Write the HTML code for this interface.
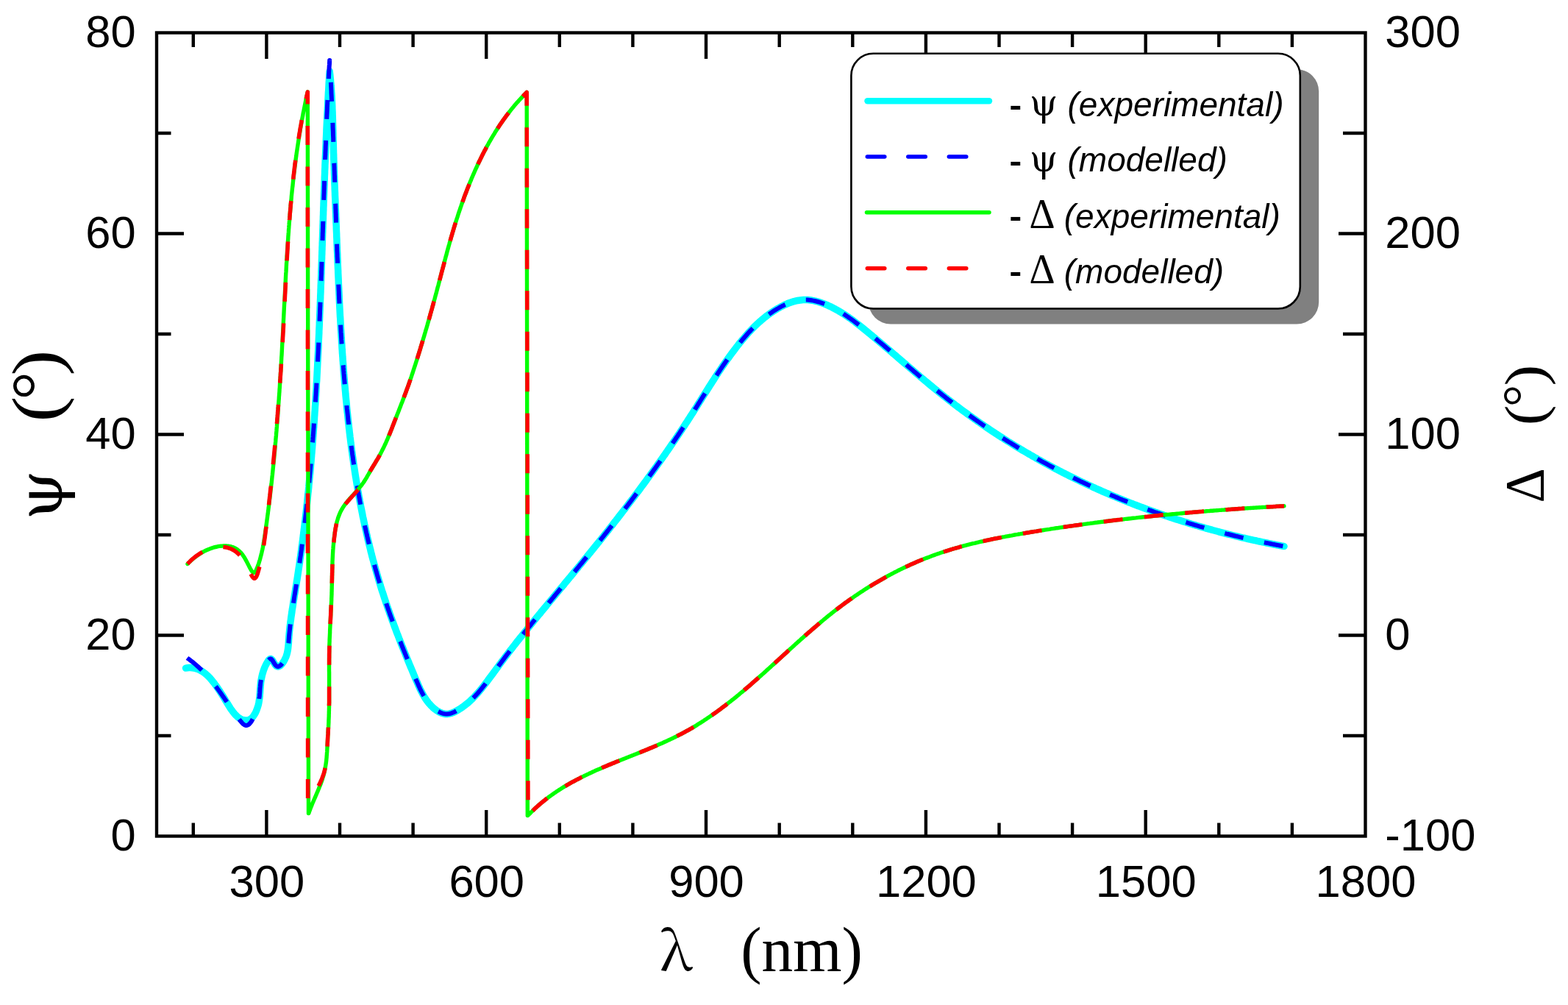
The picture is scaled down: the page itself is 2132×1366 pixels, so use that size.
<!DOCTYPE html><html><head><meta charset="utf-8"><title>Ellipsometry spectra</title>
<style>html,body{margin:0;padding:0;background:#fff;width:2132px;height:1366px;overflow:hidden}svg{display:block}</style></head><body>
<svg width="2132" height="1366" viewBox="0 0 2132 1366">
<rect width="2132" height="1366" fill="#fff"/>
<g fill="none" stroke-linejoin="round">
<path d="M252.6,908.1 254.8,907.8 257,907.6 259.1,907.6 261.1,907.8 263.1,908 265.1,908.4 266.9,908.9 268.8,909.5 270.5,910.3 272.3,911.1 273.9,912 275.6,913 277.2,914.1 278.7,915.3 280.2,916.5 281.7,917.8 283.1,919.2 284.5,920.6 285.9,922.1 287.2,923.6 288.5,925.2 289.7,926.7 291,928.3 292.2,930 293.4,931.6 294.6,933.2 295.7,934.8 296.8,936.5 298,938.2 299.1,939.8 300.1,941.5 301.2,943.2 302.3,944.9 303.4,946.6 304.5,948.3 305.5,950.1 306.6,951.9 307.7,953.7 308.8,955.5 309.9,957.3 311,959.1 312.2,960.9 313.3,962.7 314.5,964.4 315.7,966.1 317,967.8 318.2,969.4 319.5,970.9 320.8,972.3 322.2,973.6 323.6,974.8 325,975.8 326.5,976.8 328,977.6 329.6,978.2 331.1,978.7 332.7,979 334.3,979.1 335.8,979.1 337.3,978.8 338.8,978.3 340.3,977.6 341.6,976.6 342.9,975.4 344.1,974 345.2,972.4 346.3,970.7 347.3,968.9 348.2,967 349,965 349.7,963 350.4,961 351,959 351.5,957.1 351.9,955.1 352.2,953.2 352.5,951.3 352.8,949.4 353,947.6 353.2,945.7 353.3,943.9 353.5,942 353.6,940.1 353.7,938.3 353.8,936.4 354,934.5 354.1,932.6 354.3,930.7 354.5,928.7 354.7,926.7 355,924.7 355.4,922.7 355.8,920.6 356.3,918.4 356.8,916.2 357.5,914 358.2,911.7 359,909.4 359.9,907.1 360.9,904.9 362,902.8 363.1,900.7 364.3,898.8 365.5,897.1 366.8,895.9 368.2,895.5 369.6,896.4 371.1,898.5 372.6,901.1 374.1,903.5 375.7,905.2 377.3,905.9 378.8,905.9 380.4,905.2 381.9,904.1 383.3,902.6 384.6,900.8 385.8,899 386.8,897.2 387.7,895.3 388.6,893.5 389.3,891.6 389.9,889.8 390.4,887.9 390.8,886 391.2,884.1 391.5,882.3 391.7,880.4 391.9,878.5 392.1,876.6 392.3,874.7 392.4,872.8 392.5,870.9 392.6,868.9 392.8,867 392.9,865.1 393.1,863.2 393.2,861.2 393.4,859.3 393.6,857.4 393.8,855.4 394,853.5 394.2,851.5 394.5,849.6 394.7,847.6 394.9,845.6 395.2,843.7 395.5,841.7 395.7,839.7 396,837.8 396.3,835.8 396.6,833.8 396.9,831.8 397.1,829.9 397.4,827.9 397.8,825.9 398.1,823.9 398.4,821.9 398.7,819.9 399,817.9 399.3,815.9 399.7,813.9 400,811.9 400.3,809.9 400.6,807.9 401,806 401.3,804 401.6,802 401.9,800 402.3,798 402.6,796 402.9,794 403.2,792 403.5,790 403.9,788 404.2,786 404.5,784 404.8,782 405.1,780 405.4,778 405.7,776 406,774 406.3,772 406.6,770 406.9,768 407.2,766 407.5,764 407.7,762 408,760 408.3,758 408.6,756 408.9,754 409.2,752 409.4,750 409.7,748 410,746 410.2,744 410.5,742 410.8,740 411,738 411.3,736 411.6,734 411.8,732 412.1,730 412.3,728 412.6,726 412.8,724 413.1,722 413.3,720 413.6,718 413.8,716 414.1,714 414.3,712 414.5,710 414.8,708 415,706 415.2,704 415.5,702 415.7,700.1 415.9,698.1 416.2,696.1 416.4,694.1 416.6,692.1 416.8,690.1 417,688.1 417.3,686.1 417.5,684.1 417.7,682.1 417.9,680.1 418.1,678.1 418.3,676.1 418.5,674.1 418.7,672.1 418.9,670.1 419.2,668.1 419.4,666.1 419.6,664.1 419.8,662.1 419.9,660.1 420.1,658.1 420.3,656.1 420.5,654.1 420.7,652.1 420.9,650.1 421.1,648.1 421.3,646.1 421.5,644.1 421.7,642.1 421.8,640.2 422,638.2 422.2,636.2 422.4,634.2 422.5,632.2 422.7,630.2 422.9,628.2 423.1,626.2 423.2,624.2 423.4,622.2 423.6,620.2 423.7,618.2 423.9,616.2 424.1,614.2 424.2,612.2 424.4,610.2 424.6,608.2 424.7,606.2 424.9,604.2 425,602.2 425.2,600.2 425.3,598.2 425.5,596.2 425.6,594.2 425.8,592.2 425.9,590.3 426.1,588.3 426.2,586.3 426.4,584.3 426.5,582.3 426.7,580.3 426.8,578.3 426.9,576.3 427.1,574.3 427.2,572.3 427.4,570.3 427.5,568.3 427.6,566.3 427.8,564.3 427.9,562.3 428,560.3 428.2,558.3 428.3,556.3 428.4,554.3 428.5,552.3 428.7,550.3 428.8,548.3 428.9,546.4 429,544.4 429.2,542.4 429.3,540.4 429.4,538.4 429.5,536.4 429.6,534.4 429.8,532.4 429.9,530.4 430,528.4 430.1,526.4 430.2,524.4 430.3,522.4 430.4,520.4 430.6,518.4 430.7,516.4 430.8,514.4 430.9,512.4 431,510.4 431.1,508.4 431.2,506.4 431.3,504.5 431.4,502.5 431.5,500.5 431.6,498.5 431.7,496.5 431.8,494.5 431.9,492.5 432,490.5 432.1,488.5 432.2,486.5 432.3,484.5 432.4,482.5 432.5,480.5 432.6,478.5 432.7,476.5 432.8,474.5 432.9,472.5 433,470.5 433.1,468.5 433.1,466.5 433.2,464.5 433.3,462.5 433.4,460.6 433.5,458.6 433.6,456.6 433.7,454.6 433.8,452.6 433.8,450.6 433.9,448.6 434,446.6 434.1,444.6 434.2,442.6 434.3,440.6 434.3,438.6 434.4,436.6 434.5,434.6 434.6,432.6 434.7,430.6 434.7,428.6 434.8,426.6 434.9,424.6 435,422.6 435.1,420.6 435.1,418.7 435.2,416.7 435.3,414.7 435.4,412.7 435.4,410.7 435.5,408.7 435.6,406.7 435.7,404.7 435.7,402.7 435.8,400.7 435.9,398.7 436,396.7 436,394.7 436.1,392.7 436.2,390.7 436.2,388.7 436.3,386.7 436.4,384.7 436.5,382.7 436.5,380.7 436.6,378.7 436.7,376.7 436.7,374.7 436.8,372.8 436.9,370.8 436.9,368.8 437,366.8 437.1,364.8 437.2,362.8 437.2,360.8 437.3,358.8 437.4,356.8 437.4,354.8 437.5,352.8 437.6,350.8 437.6,348.8 437.7,346.8 437.8,344.8 437.8,342.8 437.9,340.8 438,338.8 438,336.8 438.1,334.8 438.2,332.8 438.2,330.8 438.3,328.8 438.4,326.8 438.4,324.8 438.5,322.9 438.6,320.9 438.6,318.9 438.7,316.9 438.8,314.9 438.8,312.9 438.9,310.9 439,308.9 439,306.9 439.1,304.9 439.2,302.9 439.2,300.9 439.3,298.9 439.4,296.9 439.4,294.9 439.5,292.9 439.6,290.9 439.6,288.9 439.7,286.9 439.8,284.9 439.8,282.9 439.9,280.9 440,278.9 440,276.9 440.1,274.9 440.2,272.9 440.3,270.9 440.3,268.9 440.4,266.9 440.5,264.9 440.5,262.9 440.6,260.9 440.7,258.9 440.7,257 440.8,255 440.9,253 441,251 441,249 441.1,247 441.2,245 441.3,243 441.3,241 441.4,239 441.5,237 441.6,235 441.6,233 441.7,231 441.8,229 441.9,227 441.9,225 442,223 442.1,221 442.2,219 442.2,217 442.3,215 442.4,213 442.5,211 442.6,209 442.7,207 442.7,205 442.8,203 442.9,201 443,199 443.1,197 443.2,195 443.2,193 443.3,191 443.4,189 443.5,187 443.6,185 443.7,183 443.8,181 443.9,179 443.9,177 444,175 444.1,173 444.2,171 444.3,169 444.4,167 444.5,165 444.6,163 444.7,161 444.8,159 444.9,157 445,155 445.1,153 445.2,151 445.3,149 445.4,147 445.5,145 445.6,143 445.7,141 445.8,139 445.9,137 446,135 446.1,133 446.2,131 446.3,129 446.4,127 446.5,125 446.7,123 446.8,121 446.9,119 447,117 447.1,115 447.2,113 447.3,111 447.5,109 447.6,107 447.7,105 447.8,103 447.9,101 448.1,99 448.2,97 L448.2,97 448.4,99 448.7,101 448.9,103 449.1,105 449.3,107 449.5,109 449.6,111 449.8,113 450,115 450.1,117 450.3,119 450.4,121 450.6,123 450.7,125 450.8,127 451,128.9 451.1,130.9 451.2,132.9 451.3,134.9 451.4,136.9 451.5,138.9 451.6,140.9 451.7,142.9 451.8,144.9 451.8,146.9 451.9,148.9 452,150.9 452.1,152.9 452.1,154.9 452.2,156.9 452.3,158.9 452.3,160.9 452.4,162.9 452.4,164.9 452.5,166.9 452.5,168.9 452.6,170.9 452.7,172.9 452.7,174.9 452.8,176.9 452.8,178.9 452.9,180.9 452.9,182.9 452.9,184.9 453,186.9 453,188.9 453.1,190.9 453.2,192.8 453.2,194.8 453.3,196.8 453.3,198.8 453.4,200.8 453.4,202.8 453.5,204.8 453.5,206.8 453.6,208.8 453.7,210.8 453.7,212.8 453.8,214.8 453.8,216.8 453.9,218.8 454,220.8 454,222.8 454.1,224.8 454.2,226.8 454.2,228.8 454.3,230.8 454.4,232.8 454.4,234.8 454.5,236.8 454.6,238.8 454.7,240.8 454.7,242.8 454.8,244.8 454.9,246.8 454.9,248.8 455,250.8 455.1,252.8 455.2,254.8 455.2,256.7 455.3,258.7 455.4,260.7 455.5,262.7 455.5,264.7 455.6,266.7 455.7,268.7 455.8,270.7 455.9,272.7 455.9,274.7 456,276.7 456.1,278.7 456.2,280.7 456.2,282.7 456.3,284.7 456.4,286.7 456.5,288.7 456.6,290.7 456.6,292.7 456.7,294.7 456.8,296.7 456.9,298.7 457,300.7 457,302.7 457.1,304.7 457.2,306.7 457.3,308.7 457.3,310.7 457.4,312.7 457.5,314.7 457.6,316.7 457.7,318.7 457.7,320.6 457.8,322.6 457.9,324.6 458,326.6 458,328.6 458.1,330.6 458.2,332.6 458.3,334.6 458.4,336.6 458.4,338.6 458.5,340.6 458.6,342.6 458.7,344.6 458.8,346.6 458.8,348.6 458.9,350.6 459,352.6 459.1,354.6 459.2,356.6 459.2,358.6 459.3,360.6 459.4,362.6 459.5,364.6 459.6,366.6 459.7,368.6 459.7,370.6 459.8,372.6 459.9,374.6 460,376.6 460.1,378.6 460.2,380.6 460.3,382.6 460.3,384.5 460.4,386.5 460.5,388.5 460.6,390.5 460.7,392.5 460.8,394.5 460.9,396.5 461,398.5 461.1,400.5 461.2,402.5 461.2,404.5 461.3,406.5 461.4,408.5 461.5,410.5 461.6,412.5 461.7,414.5 461.8,416.5 461.9,418.5 462,420.5 462.1,422.5 462.2,424.5 462.3,426.5 462.4,428.5 462.5,430.5 462.7,432.5 462.8,434.5 462.9,436.5 463,438.5 463.1,440.5 463.2,442.5 463.3,444.5 463.4,446.5 463.5,448.4 463.7,450.4 463.8,452.4 463.9,454.4 464,456.4 464.1,458.4 464.3,460.4 464.4,462.4 464.5,464.4 464.6,466.4 464.8,468.4 464.9,470.4 465,472.4 465.1,474.4 465.3,476.4 465.4,478.4 465.5,480.4 465.7,482.4 465.8,484.4 466,486.4 466.1,488.4 466.2,490.4 466.4,492.4 466.5,494.4 466.7,496.4 466.8,498.4 467,500.4 467.1,502.4 467.3,504.4 467.4,506.4 467.6,508.4 467.7,510.3 467.9,512.3 468.1,514.3 468.2,516.3 468.4,518.3 468.5,520.3 468.7,522.3 468.9,524.3 469.1,526.3 469.2,528.3 469.4,530.3 469.6,532.3 469.8,534.3 469.9,536.3 470.1,538.3 470.3,540.3 470.5,542.3 470.7,544.3 470.9,546.3 471.1,548.3 471.3,550.3 471.4,552.3 471.6,554.3 471.8,556.3 472,558.3 472.2,560.3 472.5,562.3 472.7,564.3 472.9,566.2 473.1,568.2 473.3,570.2 473.5,572.2 473.7,574.2 474,576.2 474.2,578.2 474.4,580.2 474.6,582.2 474.9,584.2 475.1,586.2 475.3,588.2 475.6,590.2 475.8,592.2 476,594.1 476.3,596.1 476.5,598.1 476.8,600.1 477,602.1 477.3,604.1 477.5,606.1 477.8,608.1 478.1,610.1 478.3,612 478.6,614 478.9,616 479.1,618 479.4,620 479.7,622 480,624 480.3,625.9 480.5,627.9 480.8,629.9 481.1,631.9 481.4,633.9 481.7,635.9 482,637.8 482.3,639.8 482.6,641.8 482.9,643.8 483.2,645.8 483.5,647.7 483.9,649.7 484.2,651.7 484.5,653.7 484.8,655.6 485.1,657.6 485.5,659.6 485.8,661.6 486.2,663.5 486.5,665.5 486.8,667.5 487.2,669.4 487.5,671.4 487.9,673.4 488.2,675.4 488.6,677.3 489,679.3 489.3,681.3 489.7,683.2 490.1,685.2 490.4,687.1 490.8,689.1 491.2,691.1 491.6,693 492,695 492.4,697 492.8,698.9 493.1,700.9 493.5,702.8 494,704.8 494.4,706.7 494.8,708.7 495.2,710.6 495.6,712.6 496,714.5 496.5,716.5 496.9,718.4 497.3,720.4 497.8,722.3 498.2,724.3 498.6,726.2 499.1,728.2 499.5,730.1 500,732.1 500.4,734 500.9,735.9 501.4,737.9 501.8,739.8 502.3,741.7 502.8,743.7 503.3,745.6 503.8,747.5 504.2,749.5 504.7,751.4 505.2,753.3 505.7,755.3 506.2,757.2 506.7,759.1 507.2,761 507.8,763 508.3,764.9 508.8,766.8 509.3,768.7 509.9,770.6 510.4,772.6 510.9,774.5 511.5,776.4 512,778.3 512.6,780.2 513.1,782.1 513.7,784 514.3,785.9 514.8,787.9 515.4,789.8 516,791.7 516.6,793.6 517.1,795.5 517.7,797.4 518.3,799.3 518.9,801.2 519.5,803.1 520.1,804.9 520.8,806.8 521.4,808.7 522,810.6 522.6,812.5 523.2,814.4 523.9,816.3 524.5,818.2 525.1,820.1 525.8,821.9 526.4,823.8 527.1,825.7 527.7,827.6 528.4,829.5 529.1,831.3 529.7,833.2 530.4,835.1 531.1,837 531.7,838.8 532.4,840.7 533.1,842.6 533.8,844.5 534.5,846.3 535.2,848.2 535.9,850.1 536.6,852 537.3,853.8 538,855.7 538.7,857.6 539.4,859.5 540.1,861.3 540.9,863.2 541.6,865.1 542.3,866.9 543,868.8 543.8,870.7 544.5,872.5 545.2,874.4 546,876.3 546.7,878.2 547.5,880 548.2,881.9 549,883.8 549.7,885.6 550.5,887.5 551.3,889.4 552,891.3 552.8,893.1 553.5,895 554.3,896.9 555.1,898.7 555.9,900.6 556.6,902.5 557.4,904.4 558.2,906.2 559,908.1 559.8,910 560.6,911.9 561.4,913.8 562.1,915.6 562.9,917.5 563.7,919.4 564.5,921.3 565.3,923.2 566.1,925.1 567,926.9 567.8,928.8 568.6,930.7 569.4,932.6 570.3,934.4 571.1,936.3 572,938.1 572.9,939.9 573.9,941.7 574.8,943.5 575.8,945.2 576.8,947 577.9,948.7 579,950.3 580.1,952 581.3,953.5 582.5,955.1 583.7,956.6 585.1,958.1 586.4,959.5 587.9,960.9 589.3,962.3 590.9,963.6 592.5,964.8 594.1,966 595.8,967 597.6,968 599.4,968.8 601.2,969.5 603.1,970 605,970.4 606.9,970.5 608.8,970.4 610.7,970.2 612.6,969.7 614.5,969.1 616.4,968.3 618.3,967.5 620.2,966.5 622,965.5 623.8,964.4 625.6,963.3 627.3,962.2 629,961 630.6,959.8 632.2,958.6 633.8,957.3 635.4,956.1 636.9,954.8 638.4,953.5 639.9,952.1 641.3,950.7 642.7,949.4 644.1,948 645.5,946.5 646.8,945.1 648.2,943.6 649.5,942.1 650.8,940.6 652.1,939.1 653.3,937.6 654.6,936.1 655.8,934.5 657.1,932.9 658.3,931.4 659.5,929.8 660.8,928.2 662,926.6 663.2,925 664.4,923.3 665.6,921.7 666.8,920.1 668.1,918.4 669.3,916.8 670.5,915.2 671.7,913.5 672.9,911.9 674.1,910.2 675.4,908.6 676.6,906.9 677.8,905.3 679,903.6 680.2,902 681.4,900.4 682.7,898.7 683.9,897.1 685.1,895.5 686.3,893.9 687.5,892.3 688.8,890.7 690,889.1 691.2,887.5 692.4,885.9 693.6,884.3 694.9,882.7 696.1,881.2 697.3,879.6 698.5,878 699.8,876.5 701,874.9 702.2,873.3 703.4,871.8 704.7,870.2 705.9,868.7 707.1,867.1 708.4,865.6 709.6,864.1 710.9,862.5 712.1,861 713.3,859.4 714.6,857.9 715.8,856.4 717.1,854.8 718.3,853.3 719.6,851.7 720.8,850.2 722.1,848.7 723.3,847.1 724.6,845.6 725.8,844.1 727.1,842.5 728.3,841 729.6,839.4 730.9,837.9 732.1,836.4 733.4,834.8 734.7,833.3 735.9,831.7 737.2,830.2 738.5,828.7 739.7,827.1 741,825.6 742.3,824.1 743.5,822.5 744.8,821 746.1,819.4 747.4,817.9 748.6,816.4 749.9,814.8 751.2,813.3 752.5,811.7 753.8,810.2 755,808.7 756.3,807.1 757.6,805.6 758.9,804 760.1,802.5 761.4,800.9 762.7,799.4 764,797.9 765.3,796.3 766.6,794.8 767.8,793.2 769.1,791.7 770.4,790.1 771.7,788.6 773,787 774.2,785.5 775.5,784 776.8,782.4 778.1,780.9 779.4,779.3 780.6,777.8 781.9,776.2 783.2,774.7 784.5,773.1 785.8,771.6 787,770 788.3,768.5 789.6,766.9 790.9,765.4 792.1,763.8 793.4,762.3 794.7,760.7 796,759.2 797.2,757.6 798.5,756.1 799.8,754.5 801,752.9 802.3,751.4 803.6,749.8 804.8,748.3 806.1,746.7 807.4,745.2 808.6,743.6 809.9,742 811.1,740.5 812.4,738.9 813.7,737.4 814.9,735.8 816.2,734.2 817.4,732.7 818.7,731.1 819.9,729.6 821.2,728 822.4,726.4 823.7,724.9 824.9,723.3 826.2,721.7 827.4,720.2 828.6,718.6 829.9,717 831.1,715.4 832.4,713.9 833.6,712.3 834.8,710.7 836.1,709.1 837.3,707.6 838.5,706 839.8,704.4 841,702.8 842.2,701.3 843.4,699.7 844.7,698.1 845.9,696.5 847.1,694.9 848.3,693.4 849.6,691.8 850.8,690.2 852,688.6 853.2,687 854.4,685.4 855.6,683.8 856.8,682.3 858,680.7 859.3,679.1 860.5,677.5 861.7,675.9 862.9,674.3 864.1,672.7 865.3,671.1 866.5,669.5 867.7,667.9 868.9,666.3 870.1,664.7 871.2,663.1 872.4,661.5 873.6,659.9 874.8,658.3 876,656.7 877.2,655.1 878.4,653.5 879.5,651.9 880.7,650.2 881.9,648.6 883.1,647 884.3,645.4 885.4,643.8 886.6,642.2 887.8,640.6 888.9,638.9 890.1,637.3 891.3,635.7 892.4,634.1 893.6,632.4 894.7,630.8 895.9,629.2 897.1,627.6 898.2,625.9 899.4,624.3 900.5,622.7 901.7,621 902.8,619.4 904,617.8 905.1,616.1 906.2,614.5 907.4,612.9 908.5,611.2 909.7,609.6 910.8,607.9 911.9,606.3 913.1,604.6 914.2,603 915.3,601.3 916.4,599.7 917.6,598 918.7,596.4 919.8,594.7 920.9,593.1 922,591.4 923.2,589.7 924.3,588.1 925.4,586.4 926.5,584.8 927.6,583.1 928.7,581.4 929.8,579.8 930.9,578.1 932,576.4 933.1,574.7 934.2,573.1 935.3,571.4 936.4,569.7 937.5,568 938.5,566.3 939.6,564.7 940.7,563 941.8,561.3 942.9,559.6 943.9,557.9 945,556.2 946.1,554.5 947.2,552.8 948.2,551.1 949.3,549.4 950.4,547.7 951.4,546 952.5,544.3 953.6,542.6 954.6,540.9 955.7,539.2 956.8,537.5 957.8,535.8 958.9,534.2 960,532.5 961,530.8 962.1,529.1 963.2,527.4 964.3,525.7 965.3,524 966.4,522.3 967.5,520.6 968.6,518.9 969.7,517.2 970.8,515.6 971.8,513.9 972.9,512.2 974,510.5 975.1,508.8 976.2,507.2 977.3,505.5 978.4,503.8 979.6,502.2 980.7,500.5 981.8,498.9 982.9,497.2 984.1,495.6 985.2,493.9 986.3,492.3 987.5,490.7 988.6,489 989.8,487.4 991,485.8 992.1,484.2 993.3,482.6 994.5,480.9 995.7,479.3 996.9,477.8 998.1,476.2 999.3,474.6 1000.5,473 1001.7,471.4 1002.9,469.9 1004.2,468.3 1005.4,466.7 1006.7,465.2 1007.9,463.7 1009.2,462.1 1010.5,460.6 1011.8,459.1 1013.1,457.6 1014.4,456.1 1015.7,454.6 1017,453.1 1018.4,451.6 1019.7,450.2 1021.1,448.7 1022.5,447.3 1023.9,445.8 1025.3,444.4 1026.7,443 1028.1,441.7 1029.5,440.3 1031,439 1032.5,437.6 1034,436.3 1035.5,435 1037,433.8 1038.5,432.5 1040.1,431.3 1041.7,430 1043.2,428.8 1044.8,427.7 1046.5,426.5 1048.1,425.3 1049.8,424.2 1051.5,423.1 1053.2,422 1054.9,420.9 1056.6,419.9 1058.4,418.8 1060.2,417.8 1062,416.8 1063.8,415.9 1065.6,415 1067.5,414.1 1069.3,413.3 1071.2,412.5 1073,411.8 1074.9,411.1 1076.8,410.5 1078.7,409.9 1080.7,409.4 1082.6,408.9 1084.5,408.5 1086.5,408.2 1088.4,407.9 1090.4,407.7 1092.3,407.6 1094.3,407.5 1096.2,407.5 1098.2,407.6 1100.2,407.8 1102.1,408 1104.1,408.3 1106,408.7 1108,409.1 1109.9,409.5 1111.9,410 1113.8,410.6 1115.8,411.2 1117.7,411.9 1119.6,412.6 1121.5,413.3 1123.4,414.1 1125.3,414.9 1127.1,415.8 1129,416.6 1130.8,417.5 1132.7,418.5 1134.5,419.4 1136.2,420.4 1138,421.3 1139.8,422.3 1141.5,423.4 1143.2,424.4 1144.9,425.4 1146.6,426.5 1148.3,427.6 1150,428.7 1151.6,429.8 1153.3,430.9 1154.9,432.1 1156.5,433.2 1158.2,434.4 1159.8,435.6 1161.4,436.8 1163,438 1164.5,439.2 1166.1,440.4 1167.7,441.6 1169.2,442.8 1170.8,444.1 1172.4,445.3 1173.9,446.6 1175.5,447.8 1177,449.1 1178.5,450.3 1180.1,451.6 1181.6,452.9 1183.1,454.1 1184.7,455.4 1186.2,456.7 1187.7,457.9 1189.3,459.2 1190.8,460.5 1192.3,461.8 1193.9,463 1195.4,464.3 1196.9,465.6 1198.4,466.9 1200,468.2 1201.5,469.5 1203,470.8 1204.5,472.1 1206,473.3 1207.5,474.6 1209.1,475.9 1210.6,477.2 1212.1,478.5 1213.6,479.8 1215.1,481.1 1216.7,482.4 1218.2,483.7 1219.7,485 1221.2,486.3 1222.7,487.6 1224.2,488.9 1225.7,490.2 1227.3,491.5 1228.8,492.8 1230.3,494.1 1231.8,495.4 1233.3,496.7 1234.9,498 1236.4,499.3 1237.9,500.6 1239.4,501.9 1240.9,503.2 1242.5,504.5 1244,505.8 1245.5,507.1 1247,508.4 1248.6,509.7 1250.1,511 1251.6,512.3 1253.1,513.6 1254.7,514.9 1256.2,516.2 1257.7,517.5 1259.3,518.7 1260.8,520 1262.4,521.3 1263.9,522.6 1265.4,523.9 1267,525.1 1268.5,526.4 1270.1,527.7 1271.6,528.9 1273.2,530.2 1274.7,531.5 1276.3,532.7 1277.9,534 1279.4,535.2 1281,536.5 1282.5,537.7 1284.1,539 1285.7,540.2 1287.3,541.4 1288.8,542.7 1290.4,543.9 1292,545.1 1293.6,546.3 1295.2,547.6 1296.8,548.8 1298.3,550 1299.9,551.2 1301.5,552.4 1303.1,553.6 1304.7,554.8 1306.3,556 1307.9,557.2 1309.5,558.4 1311.2,559.6 1312.8,560.7 1314.4,561.9 1316,563.1 1317.6,564.3 1319.2,565.4 1320.9,566.6 1322.5,567.8 1324.1,568.9 1325.7,570.1 1327.4,571.2 1329,572.4 1330.7,573.5 1332.3,574.7 1333.9,575.8 1335.6,576.9 1337.2,578.1 1338.9,579.2 1340.5,580.3 1342.2,581.4 1343.8,582.6 1345.5,583.7 1347.1,584.8 1348.8,585.9 1350.5,587 1352.1,588.1 1353.8,589.2 1355.5,590.3 1357.2,591.4 1358.8,592.5 1360.5,593.6 1362.2,594.6 1363.9,595.7 1365.5,596.8 1367.2,597.9 1368.9,598.9 1370.6,600 1372.3,601 1374,602.1 1375.7,603.2 1377.4,604.2 1379.1,605.3 1380.8,606.3 1382.5,607.3 1384.2,608.4 1385.9,609.4 1387.6,610.4 1389.3,611.5 1391.1,612.5 1392.8,613.5 1394.5,614.5 1396.2,615.5 1397.9,616.5 1399.7,617.5 1401.4,618.5 1403.1,619.5 1404.9,620.5 1406.6,621.5 1408.3,622.5 1410.1,623.5 1411.8,624.5 1413.6,625.4 1415.3,626.4 1417,627.4 1418.8,628.3 1420.5,629.3 1422.3,630.3 1424.1,631.2 1425.8,632.2 1427.6,633.1 1429.3,634.1 1431.1,635 1432.9,635.9 1434.6,636.9 1436.4,637.8 1438.2,638.7 1439.9,639.6 1441.7,640.6 1443.5,641.5 1445.3,642.4 1447.1,643.3 1448.8,644.2 1450.6,645.1 1452.4,646 1454.2,646.9 1456,647.8 1457.8,648.7 1459.6,649.6 1461.4,650.4 1463.2,651.3 1465,652.2 1466.8,653 1468.6,653.9 1470.4,654.8 1472.2,655.6 1474,656.5 1475.8,657.3 1477.6,658.2 1479.4,659 1481.2,659.9 1483.1,660.7 1484.9,661.5 1486.7,662.4 1488.5,663.2 1490.3,664 1492.2,664.8 1494,665.6 1495.8,666.4 1497.7,667.3 1499.5,668.1 1501.3,668.9 1503.2,669.7 1505,670.4 1506.8,671.2 1508.7,672 1510.5,672.8 1512.4,673.6 1514.2,674.4 1516.1,675.1 1517.9,675.9 1519.8,676.7 1521.6,677.4 1523.5,678.2 1525.3,678.9 1527.2,679.7 1529,680.4 1530.9,681.2 1532.8,681.9 1534.6,682.7 1536.5,683.4 1538.3,684.1 1540.2,684.8 1542.1,685.6 1543.9,686.3 1545.8,687 1547.7,687.7 1549.6,688.4 1551.4,689.1 1553.3,689.8 1555.2,690.5 1557.1,691.2 1559,691.9 1560.8,692.6 1562.7,693.3 1564.6,694 1566.5,694.6 1568.4,695.3 1570.3,696 1572.2,696.6 1574,697.3 1575.9,698 1577.8,698.6 1579.7,699.3 1581.6,699.9 1583.5,700.6 1585.4,701.2 1587.3,701.8 1589.2,702.5 1591.1,703.1 1593,703.7 1594.9,704.4 1596.8,705 1598.7,705.6 1600.6,706.2 1602.5,706.8 1604.5,707.4 1606.4,708 1608.3,708.6 1610.2,709.2 1612.1,709.8 1614,710.4 1615.9,711 1617.8,711.6 1619.8,712.2 1621.7,712.8 1623.6,713.3 1625.5,713.9 1627.4,714.5 1629.4,715 1631.3,715.6 1633.2,716.1 1635.1,716.7 1637.1,717.2 1639,717.8 1640.9,718.3 1642.8,718.9 1644.8,719.4 1646.7,719.9 1648.6,720.5 1650.6,721 1652.5,721.5 1654.4,722 1656.4,722.5 1658.3,723.1 1660.2,723.6 1662.2,724.1 1664.1,724.6 1666,725.1 1668,725.6 1669.9,726.1 1671.9,726.5 1673.8,727 1675.7,727.5 1677.7,728 1679.6,728.5 1681.6,728.9 1683.5,729.4 1685.5,729.9 1687.4,730.3 1689.3,730.8 1691.3,731.2 1693.2,731.7 1695.2,732.1 1697.1,732.6 1699.1,733 1701,733.5 1703,733.9 1704.9,734.3 1706.9,734.7 1708.8,735.2 1710.8,735.6 1712.7,736 1714.7,736.4 1716.6,736.8 1718.6,737.2 1720.6,737.6 1722.5,738 1724.5,738.4 1726.4,738.8 1728.4,739.2 1730.3,739.6 1732.3,740 1734.2,740.4 1736.2,740.8 1738.2,741.1 1740.1,741.5 1742.1,741.9 1744,742.2 1746,742.6" stroke="#00ffff" stroke-width="9.5" stroke-linecap="round"/>
<path d="M254.5,894.3 256.2,895.6 258,896.8 259.6,898.1 261.3,899.4 262.9,900.7 264.5,902 266,903.3 267.6,904.7 269.1,906 270.5,907.3 272,908.7 273.4,910 274.8,911.4 276.1,912.8 277.5,914.2 278.8,915.6 280.1,917 281.4,918.4 282.7,919.8 284,921.3 285.2,922.7 286.5,924.2 287.7,925.7 288.9,927.2 290.1,928.7 291.3,930.2 292.5,931.7 293.7,933.3 294.9,934.9 296,936.4 297.2,938 298.4,939.6 299.5,941.3 300.7,942.9 301.9,944.6 303,946.3 304.2,947.9 305.4,949.7 306.6,951.4 307.8,953.1 309,954.9 310.2,956.7 311.4,958.5 312.6,960.3 313.8,962.1 315.1,963.9 316.3,965.7 317.5,967.4 318.8,969.2 320,971 321.3,972.7 322.6,974.4 323.8,976.1 325.1,977.7 326.3,979.3 327.6,980.8 328.9,982.3 330.1,983.6 331.4,984.6 332.7,985.5 333.9,985.9 335.2,986 336.4,985.7 337.7,985.1 338.9,984.1 340.1,982.8 341.3,981.3 342.5,979.5 343.6,977.6 344.7,975.5 345.7,973.2 346.6,970.9 347.6,968.5 348.4,966.1 349.2,963.7 349.9,961.4 350.5,959.1 351,956.9 351.5,954.8 351.9,952.8 352.2,950.9 352.4,949 352.7,947.2 352.9,945.4 353,943.7 353.2,942 353.3,940.3 353.4,938.6 353.5,936.9 353.6,935.2 353.8,933.5 353.9,931.8 354.1,930 354.3,928.1 354.6,926.2 354.9,924.3 355.3,922.2 355.8,920.1 356.3,917.9 357,915.6 357.7,913.1 358.5,910.6 359.4,908.1 360.4,905.6 361.4,903.3 362.5,901 363.7,899.1 365,897.3 366.3,896 367.6,895.4 369,895.9 370.5,897.6 372,900.1 373.5,902.6 375,904.6 376.6,905.7 378.1,906 379.7,905.6 381.2,904.6 382.6,903.3 383.9,901.6 385.1,899.8 386.2,898 387.2,896.2 388.1,894.3 388.8,892.5 389.5,890.6 390,888.8 390.5,886.9 390.9,885 391.3,883.1 391.6,881.2 391.8,879.4 392,877.5 392.2,875.6 392.4,873.7 392.5,871.8 392.6,869.8 392.8,867.9 392.9,866 393.1,864.1 393.3,862.1 393.5,860.2 393.7,858.3 393.9,856.3 394.1,854.4 394.3,852.4 394.5,850.5 394.8,848.5 395,846.6 395.3,844.6 395.5,842.6 395.8,840.7 396.1,838.7 396.4,836.7 396.6,834.7 396.9,832.8 397.2,830.8 397.5,828.8 397.8,826.8 398.1,824.8 398.4,822.8 398.7,820.9 399.1,818.9 399.4,816.9 399.7,814.9 400,812.9 400.3,810.9 400.6,808.9 401,806.9 401.3,804.9 401.6,802.9 401.9,800.9 402.2,798.9 402.6,796.9 402.9,794.9 403.2,792.9 403.5,790.9 403.8,788.9 404.1,786.9 404.4,784.9 404.7,782.9 405,780.9 405.3,778.9 405.6,776.9 405.9,774.9 406.2,772.9 406.5,770.9 406.8,768.9 407.1,766.9 407.4,764.9 407.6,762.9 407.9,760.9 408.2,758.9 408.5,756.9 408.8,754.9 409,752.9 409.3,750.9 409.6,748.9 409.9,746.9 410.1,744.9 410.4,743 410.6,741 410.9,739 411.2,737 411.4,735 411.7,733 411.9,731 412.2,729 412.4,727 412.7,725 412.9,723 413.2,721 413.4,719 413.7,717 413.9,715 414.1,713 414.4,711 414.6,709 414.9,707 415.1,705 415.3,703 415.5,701 415.8,699 416,697 416.2,695 416.4,693 416.7,691 416.9,689 417.1,687 417.3,685 417.5,683 417.7,681 418,679.1 418.2,677.1 418.4,675.1 418.6,673.1 418.8,671.1 419,669.1 419.2,667.1 419.4,665.1 419.6,663.1 419.8,661.1 420,659.1 420.2,657.1 420.4,655.1 420.6,653.1 420.7,651.1 420.9,649.1 421.1,647.1 421.3,645.1 421.5,643.1 421.7,641.1 421.9,639.1 422,637.1 422.2,635.1 422.4,633.1 422.6,631.2 422.7,629.2 422.9,627.2 423.1,625.2 423.3,623.2 423.4,621.2 423.6,619.2 423.8,617.2 423.9,615.2 424.1,613.2 424.3,611.2 424.4,609.2 424.6,607.2 424.7,605.2 424.9,603.2 425.1,601.2 425.2,599.2 425.4,597.2 425.5,595.2 425.7,593.2 425.8,591.3 426,589.3 426.1,587.3 426.3,585.3 426.4,583.3 426.6,581.3 426.7,579.3 426.8,577.3 427,575.3 427.1,573.3 427.3,571.3 427.4,569.3 427.5,567.3 427.7,565.3 427.8,563.3 427.9,561.3 428.1,559.3 428.2,557.3 428.3,555.3 428.5,553.4 428.6,551.4 428.7,549.4 428.8,547.4 429,545.4 429.1,543.4 429.2,541.4 429.3,539.4 429.5,537.4 429.6,535.4 429.7,533.4 429.8,531.4 429.9,529.4 430.1,527.4 430.2,525.4 430.3,523.4 430.4,521.4 430.5,519.4 430.6,517.5 430.7,515.5 430.8,513.5 431,511.5 431.1,509.5 431.2,507.5 431.3,505.5 431.4,503.5 431.5,501.5 431.6,499.5 431.7,497.5 431.8,495.5 431.9,493.5 432,491.5 432.1,489.5 432.2,487.5 432.3,485.5 432.4,483.5 432.5,481.6 432.6,479.6 432.7,477.6 432.8,475.6 432.9,473.6 433,471.6 433.1,469.6 433.2,467.6 433.3,465.6 433.3,463.6 433.4,461.6 433.5,459.6 433.6,457.6 433.7,455.6 433.8,453.6 433.9,451.6 434,449.6 434.1,447.6 434.1,445.7 434.2,443.7 434.3,441.7 434.4,439.7 434.5,437.7 434.6,435.7 434.6,433.7 434.7,431.7 434.8,429.7 434.9,427.7 435,425.7 435,423.7 435.1,421.7 435.2,419.7 435.3,417.7 435.4,415.7 435.4,413.7 435.5,411.7 435.6,409.7 435.7,407.8 435.7,405.8 435.8,403.8 435.9,401.8 436,399.8 436,397.8 436.1,395.8 436.2,393.8 436.3,391.8 436.3,389.8 436.4,387.8 436.5,385.8 436.5,383.8 436.6,381.8 436.7,379.8 436.7,377.8 436.8,375.8 436.9,373.8 437,371.8 437,369.8 437.1,367.8 437.2,365.9 437.2,363.9 437.3,361.9 437.4,359.9 437.4,357.9 437.5,355.9 437.6,353.9 437.6,351.9 437.7,349.9 437.8,347.9 437.8,345.9 437.9,343.9 438,341.9 438,339.9 438.1,337.9 438.2,335.9 438.2,333.9 438.3,331.9 438.4,329.9 438.4,327.9 438.5,325.9 438.6,323.9 438.6,321.9 438.7,319.9 438.7,318 438.8,316 438.9,314 438.9,312 439,310 439.1,308 439.1,306 439.2,304 439.3,302 439.3,300 439.4,298 439.5,296 439.5,294 439.6,292 439.6,290 439.7,288 439.8,286 439.8,284 439.9,282 440,280 440,278 440.1,276 440.2,274 440.2,272 440.3,270 440.4,268 440.4,266 440.5,264 440.6,262 440.6,260 440.7,258 440.8,256 440.8,254 440.9,252.1 441,250.1 441,248.1 441.1,246.1 441.2,244.1 441.2,242.1 441.3,240.1 441.4,238.1 441.4,236.1 441.5,234.1 441.6,232.1 441.6,230.1 441.7,228.1 441.8,226.1 441.9,224.1 441.9,222.1 442,220.1 442.1,218.1 442.1,216.1 442.2,214.1 442.3,212.1 442.4,210.1 442.4,208.1 442.5,206.1 442.6,204.1 442.7,202.1 442.7,200.1 442.8,198.1 442.9,196.1 443,194.1 443,192.1 443.1,190.1 443.2,188.1 443.3,186.1 443.3,184.1 443.4,182.1 443.5,180.1 443.6,178.1 443.7,176.1 443.7,174.1 443.8,172.1 443.9,170.1 444,168.1 444.1,166.1 444.2,164.1 444.2,162.1 444.3,160.1 444.4,158.1 444.5,156.1 444.6,154.1 444.7,152.1 444.8,150.1 444.9,148.1 444.9,146.1 445,144.1 445.1,142.1 445.2,140.1 445.3,138.1 445.4,136.1 445.5,134.1 445.6,132.1 445.7,130.1 445.8,128.1 445.9,126.1 446,124.1 446.1,122.1 446.2,120.1 446.3,118.1 446.4,116.1 446.5,114.1 446.6,112 446.7,110 446.8,108 446.9,106 447,104 447.1,102 447.2,100 447.3,98 447.4,96 447.5,94 447.6,92 447.7,90 447.9,88 448,86 448.1,84 448.2,82 L448.2,82 448.3,84 448.4,86 448.6,88 448.7,90 448.8,92 448.9,94 449,96 449.1,98 449.2,100 449.3,102 449.4,104 449.5,106 449.6,108 449.8,110 449.9,112 450,114 450.1,116 450.2,118 450.3,120 450.4,122 450.5,124 450.5,126 450.6,128 450.7,130 450.8,132 450.9,134 451,136 451.1,138 451.2,140 451.3,142 451.4,144 451.5,146 451.6,148 451.6,150 451.7,152 451.8,154 451.9,156 452,158 452.1,160 452.1,162 452.2,164 452.3,166 452.4,168 452.5,170 452.5,172 452.6,174 452.7,176 452.8,178 452.9,180 452.9,182 453,184 453.1,186 453.2,188 453.2,190 453.3,192 453.4,194 453.5,196 453.5,198 453.6,200 453.7,202 453.7,204 453.8,206 453.9,208 454,210 454,212 454.1,214 454.2,216 454.2,218 454.3,220 454.4,222 454.4,224 454.5,226 454.6,228 454.6,230 454.7,232 454.8,234 454.8,236 454.9,238 455,240 455,242 455.1,244 455.2,246 455.2,248 455.3,250 455.4,252 455.4,254 455.5,256 455.6,258 455.6,260 455.7,262 455.8,264 455.8,266 455.9,268 456,270 456,272 456.1,274 456.1,276 456.2,278 456.3,280 456.3,282 456.4,284 456.5,286 456.5,288 456.6,290 456.7,292 456.7,293.9 456.8,295.9 456.9,297.9 456.9,299.9 457,301.9 457.1,303.9 457.1,305.9 457.2,307.9 457.3,309.9 457.3,311.9 457.4,313.9 457.5,315.9 457.6,317.9 457.6,319.9 457.7,321.9 457.8,323.9 457.8,325.9 457.9,327.9 458,329.9 458.1,331.9 458.1,333.9 458.2,335.9 458.3,337.9 458.3,339.9 458.4,341.9 458.5,343.9 458.6,345.9 458.6,347.9 458.7,349.9 458.8,351.9 458.9,353.9 459,355.9 459,357.9 459.1,359.9 459.2,361.9 459.3,363.9 459.4,365.9 459.4,367.9 459.5,369.9 459.6,371.9 459.7,373.8 459.8,375.8 459.9,377.8 459.9,379.8 460,381.8 460.1,383.8 460.2,385.8 460.3,387.8 460.4,389.8 460.5,391.8 460.6,393.8 460.7,395.8 460.8,397.8 460.8,399.8 460.9,401.8 461,403.8 461.1,405.8 461.2,407.8 461.3,409.8 461.4,411.8 461.5,413.8 461.6,415.8 461.7,417.8 461.8,419.8 461.9,421.8 462,423.8 462.2,425.8 462.3,427.8 462.4,429.8 462.5,431.8 462.6,433.8 462.7,435.8 462.8,437.8 462.9,439.8 463,441.8 463.2,443.7 463.3,445.7 463.4,447.7 463.5,449.7 463.6,451.7 463.8,453.7 463.9,455.7 464,457.7 464.1,459.7 464.2,461.7 464.4,463.7 464.5,465.7 464.6,467.7 464.8,469.7 464.9,471.7 465,473.7 465.2,475.7 465.3,477.7 465.4,479.7 465.6,481.7 465.7,483.7 465.9,485.7 466,487.7 466.2,489.7 466.3,491.7 466.5,493.7 466.6,495.7 466.8,497.7 466.9,499.7 467.1,501.7 467.2,503.7 467.4,505.7 467.5,507.7 467.7,509.7 467.9,511.7 468,513.6 468.2,515.6 468.4,517.6 468.5,519.6 468.7,521.6 468.9,523.6 469,525.6 469.2,527.6 469.4,529.6 469.6,531.6 469.7,533.6 469.9,535.6 470.1,537.6 470.3,539.6 470.5,541.6 470.7,543.6 470.9,545.6 471.1,547.6 471.3,549.6 471.4,551.6 471.6,553.6 471.8,555.6 472.1,557.6 472.3,559.6 472.5,561.6 472.7,563.6 472.9,565.6 473.1,567.6 473.3,569.6 473.5,571.6 473.7,573.5 474,575.5 474.2,577.5 474.4,579.5 474.6,581.5 474.9,583.5 475.1,585.5 475.3,587.5 475.6,589.5 475.8,591.5 476.1,593.5 476.3,595.5 476.5,597.5 476.8,599.5 477,601.4 477.3,603.4 477.5,605.4 477.8,607.4 478.1,609.4 478.3,611.4 478.6,613.4 478.9,615.4 479.1,617.4 479.4,619.3 479.7,621.3 480,623.3 480.2,625.3 480.5,627.3 480.8,629.3 481.1,631.3 481.4,633.2 481.7,635.2 482,637.2 482.3,639.2 482.6,641.2 482.9,643.1 483.2,645.1 483.5,647.1 483.8,649.1 484.1,651.1 484.5,653 484.8,655 485.1,657 485.4,659 485.8,660.9 486.1,662.9 486.4,664.9 486.8,666.9 487.1,668.8 487.5,670.8 487.8,672.8 488.2,674.7 488.5,676.7 488.9,678.7 489.2,680.6 489.6,682.6 490,684.6 490.3,686.5 490.7,688.5 491.1,690.5 491.5,692.4 491.9,694.4 492.3,696.3 492.6,698.3 493,700.3 493.4,702.2 493.8,704.2 494.2,706.1 494.7,708.1 495.1,710 495.5,712 495.9,713.9 496.3,715.9 496.7,717.8 497.2,719.8 497.6,721.7 498,723.7 498.5,725.6 498.9,727.6 499.4,729.5 499.8,731.5 500.3,733.4 500.7,735.3 501.2,737.3 501.7,739.2 502.1,741.2 502.6,743.1 503.1,745 503.6,747 504.1,748.9 504.5,750.8 505,752.8 505.5,754.7 506,756.6 506.5,758.5 507.1,760.5 507.6,762.4 508.1,764.3 508.6,766.2 509.1,768.2 509.7,770.1 510.2,772 510.7,773.9 511.3,775.8 511.8,777.7 512.4,779.7 512.9,781.6 513.5,783.5 514,785.4 514.6,787.3 515.2,789.2 515.8,791.1 516.3,793 516.9,794.9 517.5,796.8 518.1,798.7 518.7,800.6 519.3,802.5 519.9,804.4 520.5,806.3 521.1,808.2 521.7,810.1 522.4,812 523,813.9 523.6,815.7 524.3,817.6 524.9,819.5 525.5,821.4 526.2,823.3 526.8,825.2 527.5,827 528.1,828.9 528.8,830.8 529.5,832.7 530.1,834.6 530.8,836.4 531.5,838.3 532.2,840.2 532.9,842.1 533.5,843.9 534.2,845.8 534.9,847.7 535.6,849.6 536.3,851.4 537,853.3 537.7,855.2 538.5,857 539.2,858.9 539.9,860.8 540.6,862.7 541.3,864.5 542.1,866.4 542.8,868.3 543.5,870.1 544.3,872 545,873.9 545.7,875.8 546.5,877.6 547.2,879.5 548,881.4 548.7,883.2 549.5,885.1 550.3,887 551,888.9 551.8,890.7 552.5,892.6 553.3,894.5 554.1,896.3 554.9,898.2 555.6,900.1 556.4,902 557.2,903.9 558,905.7 558.8,907.6 559.6,909.5 560.4,911.4 561.1,913.2 561.9,915.1 562.7,917 563.5,918.9 564.3,920.8 565.1,922.7 565.9,924.5 566.8,926.4 567.6,928.3 568.4,930.2 569.2,932.1 570.1,933.9 570.9,935.8 571.8,937.6 572.7,939.4 573.6,941.2 574.6,943 575.6,944.8 576.6,946.5 577.6,948.2 578.7,949.9 579.8,951.5 581,953.1 582.2,954.7 583.5,956.2 584.8,957.7 586.1,959.2 587.5,960.6 589,961.9 590.5,963.2 592.1,964.5 593.7,965.7 595.4,966.8 597.2,967.7 598.9,968.6 600.8,969.3 602.6,969.9 604.5,970.3 606.4,970.5 608.3,970.5 610.2,970.3 612.1,969.8 614,969.3 615.9,968.5 617.8,967.7 619.7,966.8 621.5,965.8 623.3,964.7 625.1,963.6 626.8,962.5 628.5,961.3 630.2,960.1 631.8,958.9 633.4,957.7 635,956.4 636.5,955.1 638,953.8 639.5,952.5 641,951.1 642.4,949.7 643.8,948.3 645.2,946.9 646.6,945.5 647.9,944 649.3,942.5 650.6,941 651.9,939.5 653.1,938 654.4,936.5 655.7,934.9 656.9,933.3 658.2,931.8 659.4,930.2 660.6,928.6 661.8,927 663.1,925.4 664.3,923.7 665.5,922.1 666.7,920.5 667.9,918.8 669.1,917.2 670.3,915.6 671.5,913.9 672.7,912.3 673.9,910.6 675.1,909 676.3,907.3 677.5,905.7 678.7,904 680,902.4 681.2,900.7 682.4,899.1 683.6,897.5 684.8,895.9 686,894.3 687.2,892.6 688.4,891 689.6,889.4 690.9,887.9 692.1,886.3 693.3,884.7 694.5,883.1 695.7,881.5 697,880 698.2,878.4 699.4,876.8 700.6,875.3 701.9,873.7 703.1,872.2 704.3,870.6 705.6,869.1 706.8,867.5 708.1,866 709.3,864.4 710.5,862.9 711.8,861.3 713,859.8 714.3,858.3 715.5,856.7 716.8,855.2 718,853.6 719.3,852.1 720.5,850.6 721.8,849 723,847.5 724.3,845.9 725.5,844.4 726.8,842.9 728.1,841.3 729.3,839.8 730.6,838.3 731.8,836.7 733.1,835.2 734.4,833.6 735.6,832.1 736.9,830.6 738.2,829 739.5,827.5 740.7,825.9 742,824.4 743.3,822.9 744.5,821.3 745.8,819.8 747.1,818.2 748.4,816.7 749.7,815.2 750.9,813.6 752.2,812.1 753.5,810.5 754.8,809 756,807.5 757.3,805.9 758.6,804.4 759.9,802.8 761.2,801.3 762.4,799.7 763.7,798.2 765,796.7 766.3,795.1 767.6,793.6 768.9,792 770.1,790.5 771.4,788.9 772.7,787.4 774,785.8 775.3,784.3 776.5,782.7 777.8,781.2 779.1,779.6 780.4,778.1 781.7,776.6 782.9,775 784.2,773.5 785.5,771.9 786.8,770.4 788,768.8 789.3,767.3 790.6,765.7 791.9,764.2 793.1,762.6 794.4,761 795.7,759.5 797,757.9 798.2,756.4 799.5,754.8 800.8,753.3 802,751.7 803.3,750.2 804.6,748.6 805.8,747 807.1,745.5 808.4,743.9 809.6,742.4 810.9,740.8 812.1,739.2 813.4,737.7 814.6,736.1 815.9,734.6 817.2,733 818.4,731.4 819.7,729.9 820.9,728.3 822.2,726.7 823.4,725.2 824.6,723.6 825.9,722 827.1,720.5 828.4,718.9 829.6,717.3 830.9,715.8 832.1,714.2 833.3,712.6 834.6,711 835.8,709.5 837,707.9 838.3,706.3 839.5,704.7 840.7,703.2 842,701.6 843.2,700 844.4,698.4 845.6,696.8 846.9,695.3 848.1,693.7 849.3,692.1 850.5,690.5 851.7,688.9 853,687.3 854.2,685.7 855.4,684.1 856.6,682.6 857.8,681 859,679.4 860.2,677.8 861.4,676.2 862.6,674.6 863.8,673 865,671.4 866.2,669.8 867.4,668.2 868.6,666.6 869.8,665 871,663.4 872.2,661.8 873.4,660.2 874.6,658.6 875.8,657 877,655.4 878.1,653.8 879.3,652.2 880.5,650.5 881.7,648.9 882.9,647.3 884,645.7 885.2,644.1 886.4,642.5 887.6,640.9 888.7,639.2 889.9,637.6 891.1,636 892.2,634.4 893.4,632.7 894.5,631.1 895.7,629.5 896.9,627.9 898,626.2 899.2,624.6 900.3,623 901.5,621.3 902.6,619.7 903.8,618.1 904.9,616.4 906,614.8 907.2,613.2 908.3,611.5 909.5,609.9 910.6,608.2 911.7,606.6 912.9,604.9 914,603.3 915.1,601.6 916.2,600 917.4,598.3 918.5,596.7 919.6,595 920.7,593.4 921.9,591.7 923,590 924.1,588.4 925.2,586.7 926.3,585 927.4,583.4 928.5,581.7 929.6,580 930.7,578.4 931.8,576.7 932.9,575 934,573.3 935.1,571.7 936.2,570 937.3,568.3 938.4,566.6 939.4,564.9 940.5,563.3 941.6,561.6 942.7,559.9 943.8,558.2 944.8,556.5 945.9,554.8 947,553.1 948.1,551.4 949.1,549.7 950.2,548 951.3,546.3 952.3,544.6 953.4,542.9 954.5,541.2 955.5,539.5 956.6,537.8 957.7,536.1 958.7,534.4 959.8,532.7 960.9,531 961.9,529.3 963,527.6 964.1,525.9 965.2,524.3 966.2,522.6 967.3,520.9 968.4,519.2 969.5,517.5 970.6,515.8 971.7,514.1 972.8,512.5 973.9,510.8 975,509.1 976.1,507.4 977.2,505.8 978.3,504.1 979.4,502.4 980.5,500.8 981.6,499.1 982.7,497.5 983.9,495.8 985,494.2 986.2,492.5 987.3,490.9 988.5,489.3 989.6,487.7 990.8,486 991.9,484.4 993.1,482.8 994.3,481.2 995.5,479.6 996.7,478 997.9,476.4 999.1,474.8 1000.3,473.2 1001.5,471.7 1002.8,470.1 1004,468.5 1005.2,467 1006.5,465.4 1007.8,463.9 1009,462.3 1010.3,460.8 1011.6,459.3 1012.9,457.8 1014.2,456.3 1015.5,454.8 1016.8,453.3 1018.2,451.8 1019.5,450.4 1020.9,448.9 1022.3,447.5 1023.7,446 1025.1,444.6 1026.5,443.2 1027.9,441.9 1029.3,440.5 1030.8,439.2 1032.3,437.8 1033.8,436.5 1035.3,435.2 1036.8,433.9 1038.3,432.7 1039.9,431.4 1041.4,430.2 1043,429 1044.6,427.8 1046.3,426.6 1047.9,425.5 1049.6,424.4 1051.2,423.2 1052.9,422.1 1054.7,421.1 1056.4,420 1058.2,419 1059.9,417.9 1061.7,417 1063.5,416 1065.4,415.1 1067.2,414.2 1069.1,413.4 1070.9,412.6 1072.8,411.9 1074.7,411.2 1076.6,410.6 1078.5,410 1080.4,409.4 1082.3,409 1084.3,408.6 1086.2,408.2 1088.2,407.9 1090.1,407.7 1092.1,407.6 1094,407.5 1096,407.5 1097.9,407.6 1099.9,407.8 1101.9,408 1103.8,408.3 1105.8,408.6 1107.7,409 1109.7,409.5 1111.6,410 1113.6,410.5 1115.5,411.2 1117.4,411.8 1119.4,412.5 1121.3,413.2 1123.2,414 1125,414.8 1126.9,415.7 1128.8,416.5 1130.6,417.4 1132.4,418.3 1134.2,419.3 1136,420.2 1137.8,421.2 1139.5,422.2 1141.3,423.2 1143,424.3 1144.7,425.3 1146.4,426.4 1148.1,427.5 1149.8,428.6 1151.4,429.7 1153.1,430.8 1154.7,432 1156.3,433.1 1158,434.3 1159.6,435.4 1161.2,436.6 1162.8,437.8 1164.3,439 1165.9,440.2 1167.5,441.5 1169.1,442.7 1170.6,443.9 1172.2,445.2 1173.7,446.4 1175.3,447.7 1176.8,448.9 1178.4,450.2 1179.9,451.5 1181.4,452.7 1183,454 1184.5,455.2 1186,456.5 1187.6,457.8 1189.1,459.1 1190.6,460.3 1192.2,461.6 1193.7,462.9 1195.2,464.2 1196.7,465.5 1198.3,466.8 1199.8,468 1201.3,469.3 1202.8,470.6 1204.4,471.9 1205.9,473.2 1207.4,474.5 1208.9,475.8 1210.4,477.1 1212,478.4 1213.5,479.7 1215,481 1216.5,482.3 1218,483.6 1219.5,484.9 1221.1,486.2 1222.6,487.5 1224.1,488.8 1225.6,490.1 1227.1,491.4 1228.6,492.7 1230.2,494 1231.7,495.3 1233.2,496.6 1234.7,497.9 1236.2,499.2 1237.7,500.5 1239.3,501.8 1240.8,503.1 1242.3,504.4 1243.8,505.7 1245.4,507 1246.9,508.3 1248.4,509.6 1249.9,510.9 1251.5,512.2 1253,513.5 1254.5,514.8 1256.1,516 1257.6,517.3 1259.1,518.6 1260.7,519.9 1262.2,521.2 1263.8,522.5 1265.3,523.7 1266.8,525 1268.4,526.3 1269.9,527.6 1271.5,528.8 1273,530.1 1274.6,531.3 1276.2,532.6 1277.7,533.9 1279.3,535.1 1280.8,536.4 1282.4,537.6 1284,538.8 1285.5,540.1 1287.1,541.3 1288.7,542.6 1290.3,543.8 1291.9,545 1293.4,546.2 1295,547.5 1296.6,548.7 1298.2,549.9 1299.8,551.1 1301.4,552.3 1303,553.5 1304.6,554.7 1306.2,555.9 1307.8,557.1 1309.4,558.3 1311,559.5 1312.6,560.6 1314.2,561.8 1315.9,563 1317.5,564.2 1319.1,565.3 1320.7,566.5 1322.4,567.7 1324,568.8 1325.6,570 1327.2,571.1 1328.9,572.3 1330.5,573.4 1332.2,574.6 1333.8,575.7 1335.4,576.9 1337.1,578 1338.7,579.1 1340.4,580.2 1342,581.4 1343.7,582.5 1345.4,583.6 1347,584.7 1348.7,585.8 1350.3,586.9 1352,588 1353.7,589.1 1355.4,590.2 1357,591.3 1358.7,592.4 1360.4,593.5 1362.1,594.6 1363.7,595.6 1365.4,596.7 1367.1,597.8 1368.8,598.9 1370.5,599.9 1372.2,601 1373.9,602 1375.6,603.1 1377.3,604.1 1379,605.2 1380.7,606.2 1382.4,607.3 1384.1,608.3 1385.8,609.3 1387.5,610.4 1389.2,611.4 1390.9,612.4 1392.7,613.4 1394.4,614.4 1396.1,615.5 1397.8,616.5 1399.6,617.5 1401.3,618.5 1403,619.5 1404.8,620.5 1406.5,621.5 1408.2,622.4 1410,623.4 1411.7,624.4 1413.5,625.4 1415.2,626.4 1416.9,627.3 1418.7,628.3 1420.4,629.2 1422.2,630.2 1424,631.2 1425.7,632.1 1427.5,633.1 1429.2,634 1431,634.9 1432.8,635.9 1434.5,636.8 1436.3,637.7 1438.1,638.7 1439.8,639.6 1441.6,640.5 1443.4,641.4 1445.2,642.3 1447,643.3 1448.7,644.2 1450.5,645.1 1452.3,646 1454.1,646.8 1455.9,647.7 1457.7,648.6 1459.5,649.5 1461.3,650.4 1463.1,651.3 1464.9,652.1 1466.7,653 1468.5,653.9 1470.3,654.7 1472.1,655.6 1473.9,656.4 1475.7,657.3 1477.5,658.1 1479.3,659 1481.2,659.8 1483,660.7 1484.8,661.5 1486.6,662.3 1488.4,663.1 1490.3,664 1492.1,664.8 1493.9,665.6 1495.7,666.4 1497.6,667.2 1499.4,668 1501.2,668.8 1503.1,669.6 1504.9,670.4 1506.8,671.2 1508.6,672 1510.4,672.8 1512.3,673.6 1514.1,674.3 1516,675.1 1517.8,675.9 1519.7,676.6 1521.5,677.4 1523.4,678.2 1525.2,678.9 1527.1,679.7 1529,680.4 1530.8,681.1 1532.7,681.9 1534.5,682.6 1536.4,683.4 1538.3,684.1 1540.1,684.8 1542,685.5 1543.9,686.3 1545.8,687 1547.6,687.7 1549.5,688.4 1551.4,689.1 1553.3,689.8 1555.1,690.5 1557,691.2 1558.9,691.9 1560.8,692.6 1562.7,693.3 1564.5,693.9 1566.4,694.6 1568.3,695.3 1570.2,696 1572.1,696.6 1574,697.3 1575.9,697.9 1577.8,698.6 1579.7,699.3 1581.6,699.9 1583.5,700.5 1585.4,701.2 1587.3,701.8 1589.2,702.5 1591.1,703.1 1593,703.7 1594.9,704.4 1596.8,705 1598.7,705.6 1600.6,706.2 1602.5,706.8 1604.4,707.4 1606.3,708 1608.2,708.6 1610.1,709.2 1612.1,709.8 1614,710.4 1615.9,711 1617.8,711.6 1619.7,712.2 1621.6,712.7 1623.6,713.3 1625.5,713.9 1627.4,714.4 1629.3,715 1631.2,715.6 1633.2,716.1 1635.1,716.7 1637,717.2 1638.9,717.8 1640.9,718.3 1642.8,718.9 1644.7,719.4 1646.7,719.9 1648.6,720.5 1650.5,721 1652.5,721.5 1654.4,722 1656.3,722.5 1658.3,723 1660.2,723.6 1662.1,724.1 1664.1,724.6 1666,725.1 1668,725.6 1669.9,726 1671.8,726.5 1673.8,727 1675.7,727.5 1677.7,728 1679.6,728.5 1681.5,728.9 1683.5,729.4 1685.4,729.9 1687.4,730.3 1689.3,730.8 1691.3,731.2 1693.2,731.7 1695.2,732.1 1697.1,732.6 1699.1,733 1701,733.5 1703,733.9 1704.9,734.3 1706.9,734.7 1708.8,735.2 1710.8,735.6 1712.7,736 1714.7,736.4 1716.6,736.8 1718.6,737.2 1720.5,737.6 1722.5,738 1724.5,738.4 1726.4,738.8 1728.4,739.2 1730.3,739.6 1732.3,740 1734.2,740.4 1736.2,740.8 1738.2,741.1 1740.1,741.5 1742.1,741.9 1744,742.2 1746,742.6" stroke="#0000ff" stroke-width="6" stroke-dasharray="26 29"/>
<path d="M255,766.5 256.5,764.9 258.1,763.4 259.7,762 261.3,760.5 262.9,759.1 264.6,757.8 266.3,756.5 268,755.3 269.7,754.1 271.5,752.9 273.2,751.9 275,750.8 276.7,749.8 278.5,748.9 280.3,748 282.1,747.2 284,746.4 285.8,745.7 287.6,745.1 289.4,744.5 291.2,743.9 293.1,743.5 294.9,743.1 296.7,742.7 298.5,742.4 300.3,742.2 302.1,742.1 303.9,742 305.7,742 307.5,742 309.2,742.1 311,742.3 312.7,742.6 314.4,743 316.1,743.5 317.7,744.1 319.4,744.9 321,745.8 322.6,746.8 324.1,748 325.7,749.3 327.2,750.8 328.7,752.5 330.1,754.4 331.5,756.5 332.9,758.7 334.2,761.1 335.5,763.5 336.8,766 338,768.4 339.2,770.7 340.3,772.8 341.4,774.7 342.4,776.3 343.4,777.6 344.4,778.3 345.3,778.5 346.2,778.2 347.1,777.2 347.9,775.7 348.6,774 349.4,772.2 350.1,770.4 350.8,768.5 351.5,766.6 352.1,764.8 352.7,762.9 353.3,761 353.8,759.1 354.3,757.1 354.8,755.2 355.3,753.3 355.8,751.3 356.2,749.4 356.7,747.4 357.1,745.5 357.5,743.5 357.8,741.5 358.2,739.5 358.5,737.5 358.9,735.5 359.2,733.6 359.5,731.6 359.8,729.6 360.1,727.6 360.4,725.6 360.7,723.6 361,721.5 361.3,719.5 361.6,717.5 361.8,715.5 362.1,713.5 362.4,711.5 362.7,709.5 362.9,707.5 363.2,705.5 363.5,703.5 363.7,701.5 364,699.5 364.3,697.5 364.5,695.5 364.8,693.5 365,691.5 365.3,689.5 365.5,687.5 365.8,685.5 366,683.4 366.3,681.4 366.5,679.4 366.8,677.4 367,675.4 367.2,673.4 367.5,671.4 367.7,669.4 367.9,667.4 368.2,665.4 368.4,663.4 368.6,661.4 368.8,659.4 369.1,657.4 369.3,655.4 369.5,653.4 369.7,651.4 369.9,649.4 370.1,647.4 370.4,645.3 370.6,643.3 370.8,641.3 371,639.3 371.2,637.3 371.4,635.3 371.6,633.3 371.8,631.3 372,629.3 372.2,627.3 372.4,625.3 372.6,623.3 372.8,621.3 373,619.3 373.1,617.3 373.3,615.3 373.5,613.3 373.7,611.3 373.9,609.3 374.1,607.3 374.2,605.3 374.4,603.2 374.6,601.2 374.8,599.2 374.9,597.2 375.1,595.2 375.3,593.2 375.5,591.2 375.6,589.2 375.8,587.2 376,585.2 376.1,583.2 376.3,581.2 376.5,579.2 376.6,577.2 376.8,575.2 376.9,573.2 377.1,571.2 377.2,569.2 377.4,567.2 377.6,565.2 377.7,563.2 377.9,561.2 378,559.2 378.2,557.2 378.3,555.2 378.4,553.2 378.6,551.1 378.7,549.1 378.9,547.1 379,545.1 379.2,543.1 379.3,541.1 379.4,539.1 379.6,537.1 379.7,535.1 379.9,533.1 380,531.1 380.1,529.1 380.3,527.1 380.4,525.1 380.5,523.1 380.6,521.1 380.8,519.1 380.9,517.1 381,515.1 381.2,513.1 381.3,511.1 381.4,509.1 381.5,507.1 381.7,505.1 381.8,503.1 381.9,501.1 382,499.1 382.1,497.1 382.3,495.1 382.4,493.1 382.5,491.1 382.6,489.1 382.7,487.1 382.8,485.1 383,483.1 383.1,481.1 383.2,479.1 383.3,477.1 383.4,475.1 383.5,473.1 383.6,471.1 383.7,469.1 383.8,467.1 384,465.1 384.1,463.1 384.2,461.1 384.3,459.1 384.4,457.1 384.5,455.1 384.6,453.1 384.7,451.1 384.8,449.1 384.9,447.1 385,445.1 385.1,443.1 385.2,441.1 385.3,439.1 385.4,437.1 385.5,435.1 385.6,433.1 385.7,431.1 385.8,429.1 385.9,427.1 386,425.1 386.1,423.1 386.2,421.1 386.3,419.1 386.4,417.1 386.5,415.1 386.6,413.1 386.8,411.1 386.9,409.1 387,407.1 387.1,405.1 387.2,403.1 387.3,401.1 387.4,399.1 387.5,397.1 387.6,395.1 387.7,393.1 387.8,391.1 387.9,389.1 388,387.1 388.1,385.1 388.2,383.1 388.3,381.2 388.4,379.2 388.5,377.2 388.6,375.2 388.7,373.2 388.8,371.2 389,369.2 389.1,367.2 389.2,365.2 389.3,363.2 389.4,361.2 389.5,359.2 389.6,357.2 389.8,355.2 389.9,353.2 390,351.2 390.1,349.2 390.2,347.2 390.4,345.3 390.5,343.3 390.6,341.3 390.7,339.3 390.9,337.3 391,335.3 391.1,333.3 391.3,331.3 391.4,329.3 391.5,327.3 391.7,325.3 391.8,323.3 391.9,321.3 392.1,319.3 392.2,317.4 392.4,315.4 392.5,313.4 392.6,311.4 392.8,309.4 392.9,307.4 393.1,305.4 393.2,303.4 393.4,301.4 393.6,299.4 393.7,297.5 393.9,295.5 394,293.5 394.2,291.5 394.4,289.5 394.5,287.5 394.7,285.5 394.9,283.5 395.1,281.5 395.2,279.5 395.4,277.6 395.6,275.6 395.8,273.6 396,271.6 396.2,269.6 396.3,267.6 396.5,265.6 396.7,263.6 396.9,261.7 397.1,259.7 397.3,257.7 397.5,255.7 397.8,253.7 398,251.7 398.2,249.7 398.4,247.8 398.6,245.8 398.8,243.8 399.1,241.8 399.3,239.8 399.5,237.8 399.7,235.8 400,233.9 400.2,231.9 400.5,229.9 400.7,227.9 401,225.9 401.2,223.9 401.5,222 401.7,220 402,218 402.2,216 402.5,214 402.8,212 403,210.1 403.3,208.1 403.6,206.1 403.9,204.1 404.2,202.1 404.5,200.1 404.8,198.2 405.1,196.2 405.4,194.2 405.7,192.2 406,190.2 406.3,188.3 406.6,186.3 406.9,184.3 407.2,182.3 407.6,180.3 407.9,178.4 408.2,176.4 408.5,174.4 408.9,172.4 409.2,170.4 409.6,168.5 409.9,166.5 410.3,164.5 410.7,162.5 411,160.6 411.4,158.6 411.8,156.6 412.1,154.6 412.5,152.6 412.9,150.7 413.3,148.7 413.7,146.7 414.1,144.7 414.5,142.8 414.9,140.8 415.3,138.8 415.7,136.8 416.1,134.9 416.6,132.9 417,130.9 417.4,128.9 417.9,127 418.3,125 L419.5,1105.5 L419.8,1105.5 420.4,1103.7 421,1101.9 421.7,1100.1 422.3,1098.3 423.1,1096.5 423.8,1094.7 424.5,1092.8 425.3,1091 426.1,1089.2 426.9,1087.3 427.7,1085.5 428.5,1083.6 429.3,1081.7 430.1,1079.9 430.9,1078 431.7,1076.1 432.5,1074.2 433.3,1072.3 434.1,1070.4 434.8,1068.5 435.6,1066.6 436.3,1064.7 437,1062.8 437.7,1060.9 438.3,1058.9 438.9,1057 439.5,1055.1 440.1,1053.1 440.6,1051.2 441.1,1049.2 441.5,1047.3 441.9,1045.3 442.3,1043.4 442.6,1041.4 442.9,1039.5 443.2,1037.5 443.5,1035.5 443.7,1033.6 443.9,1031.6 444.1,1029.6 444.2,1027.6 444.4,1025.6 444.5,1023.7 444.7,1021.7 444.8,1019.7 444.9,1017.7 445,1015.7 445.1,1013.7 445.2,1011.7 445.3,1009.7 445.4,1007.7 445.5,1005.7 445.6,1003.7 445.7,1001.7 445.8,999.7 446,997.7 446.1,995.7 446.2,993.7 446.3,991.7 446.4,989.7 446.6,987.7 446.7,985.7 446.8,983.7 446.9,981.7 446.9,979.7 447,977.7 447.1,975.7 447.2,973.7 447.2,971.7 447.3,969.7 447.3,967.7 447.4,965.7 447.4,963.7 447.5,961.7 447.5,959.7 447.5,957.7 447.6,955.7 447.6,953.7 447.6,951.7 447.6,949.7 447.6,947.7 447.6,945.7 447.6,943.7 447.6,941.7 447.6,939.7 447.6,937.7 447.6,935.7 447.6,933.7 447.6,931.7 447.6,929.8 447.6,927.8 447.6,925.8 447.6,923.8 447.6,921.8 447.6,919.8 447.6,917.8 447.6,915.8 447.6,913.8 447.5,911.8 447.5,909.8 447.5,907.8 447.5,905.8 447.5,903.8 447.6,901.8 447.6,899.8 447.6,897.8 447.6,895.8 447.6,893.8 447.6,891.8 447.6,889.8 447.7,887.8 447.7,885.8 447.7,883.8 447.8,881.8 447.8,879.8 447.9,877.9 447.9,875.9 448,873.9 448.1,871.9 448.1,869.9 448.2,867.9 448.3,865.9 448.4,863.9 448.5,861.9 448.6,859.9 448.6,857.9 448.7,855.9 448.8,853.9 448.9,851.9 449,849.9 449.1,847.9 449.2,845.9 449.3,843.9 449.4,841.9 449.5,839.9 449.6,837.8 449.7,835.8 449.8,833.8 449.9,831.8 450,829.8 450.1,827.8 450.2,825.8 450.3,823.8 450.4,821.8 450.5,819.8 450.6,817.8 450.7,815.8 450.7,813.8 450.8,811.8 450.9,809.7 451,807.7 451,805.7 451.1,803.7 451.1,801.7 451.2,799.7 451.2,797.7 451.3,795.7 451.3,793.6 451.4,791.6 451.4,789.6 451.5,787.6 451.5,785.6 451.5,783.6 451.6,781.6 451.6,779.6 451.7,777.5 451.7,775.5 451.7,773.5 451.8,771.5 451.8,769.5 451.9,767.5 452,765.5 452,763.5 452.1,761.5 452.2,759.5 452.3,757.5 452.4,755.5 452.5,753.5 452.6,751.5 452.7,749.5 452.8,747.5 453,745.5 453.1,743.5 453.3,741.5 453.5,739.5 453.7,737.5 453.9,735.6 454.1,733.6 454.3,731.6 454.5,729.6 454.8,727.7 455,725.7 455.3,723.7 455.6,721.8 455.9,719.8 456.3,717.9 456.7,715.9 457,714 457.5,712 457.9,710.1 458.4,708.2 459,706.3 459.5,704.4 460.2,702.5 460.9,700.7 461.6,698.8 462.4,697 463.2,695.2 464.2,693.4 465.2,691.7 466.2,689.9 467.3,688.2 468.5,686.5 469.8,684.9 471.1,683.2 472.4,681.6 473.7,680 475,678.5 476.4,676.9 477.7,675.4 479.1,673.9 480.4,672.5 481.7,671 483.1,669.5 484.4,668.1 485.7,666.6 486.9,665.1 488.2,663.6 489.4,662.1 490.7,660.6 491.8,659.1 493,657.5 494.1,656 495.2,654.4 496.2,652.7 497.2,651.1 498.3,649.4 499.2,647.7 500.2,646 501.2,644.3 502.2,642.5 503.3,640.8 504.3,639 505.3,637.3 506.4,635.5 507.4,633.8 508.5,632 509.6,630.2 510.6,628.5 511.7,626.7 512.7,624.9 513.8,623.1 514.8,621.3 515.8,619.5 516.8,617.7 517.8,615.9 518.7,614.1 519.6,612.3 520.5,610.5 521.4,608.7 522.3,606.9 523.1,605.1 524,603.3 524.8,601.5 525.6,599.7 526.4,597.9 527.2,596 527.9,594.2 528.7,592.4 529.4,590.6 530.2,588.7 530.9,586.9 531.7,585.1 532.4,583.2 533.1,581.4 533.8,579.6 534.5,577.7 535.3,575.9 536,574 536.7,572.2 537.4,570.4 538.1,568.5 538.9,566.7 539.6,564.8 540.3,563 541.1,561.1 541.8,559.2 542.5,557.4 543.2,555.5 544,553.7 544.7,551.8 545.4,549.9 546.1,548.1 546.9,546.2 547.6,544.3 548.3,542.5 549,540.6 549.7,538.7 550.4,536.9 551.1,535 551.8,533.1 552.5,531.2 553.2,529.3 553.9,527.5 554.6,525.6 555.2,523.7 555.9,521.8 556.6,519.9 557.2,518 557.9,516.2 558.5,514.3 559.2,512.4 559.8,510.5 560.4,508.6 561.1,506.7 561.7,504.8 562.3,502.9 562.9,501 563.5,499.1 564.2,497.2 564.8,495.3 565.4,493.4 566,491.5 566.6,489.6 567.2,487.7 567.8,485.8 568.4,483.9 569,482 569.6,480.1 570.2,478.1 570.8,476.2 571.4,474.3 572,472.4 572.5,470.5 573.1,468.6 573.7,466.7 574.3,464.7 574.9,462.8 575.4,460.9 576,459 576.6,457.1 577.1,455.2 577.7,453.2 578.3,451.3 578.8,449.4 579.4,447.5 580,445.5 580.5,443.6 581.1,441.7 581.6,439.8 582.2,437.9 582.7,435.9 583.3,434 583.8,432.1 584.4,430.1 584.9,428.2 585.4,426.3 586,424.4 586.5,422.4 587.1,420.5 587.6,418.6 588.1,416.6 588.7,414.7 589.2,412.8 589.7,410.9 590.2,408.9 590.8,407 591.3,405.1 591.8,403.1 592.3,401.2 592.9,399.3 593.4,397.3 593.9,395.4 594.4,393.5 594.9,391.5 595.4,389.6 596,387.7 596.5,385.7 597,383.8 597.5,381.9 598,379.9 598.5,378 599,376.1 599.5,374.1 600,372.2 600.5,370.3 601,368.3 601.5,366.4 602,364.5 602.6,362.5 603.1,360.6 603.6,358.7 604.1,356.7 604.6,354.8 605.1,352.9 605.6,351 606.1,349 606.7,347.1 607.2,345.2 607.7,343.2 608.2,341.3 608.7,339.4 609.3,337.4 609.8,335.5 610.3,333.6 610.9,331.7 611.4,329.7 612,327.8 612.5,325.9 613.1,323.9 613.6,322 614.2,320.1 614.7,318.2 615.3,316.2 615.9,314.3 616.5,312.4 617,310.5 617.6,308.6 618.2,306.6 618.8,304.7 619.4,302.8 620,300.9 620.6,299 621.2,297.1 621.9,295.1 622.5,293.2 623.1,291.3 623.7,289.4 624.4,287.5 625,285.6 625.7,283.7 626.3,281.8 627,279.9 627.6,278 628.3,276.1 629,274.2 629.7,272.3 630.4,270.4 631,268.5 631.7,266.7 632.4,264.8 633.2,262.9 633.9,261 634.6,259.1 635.3,257.3 636,255.4 636.8,253.5 637.5,251.7 638.3,249.8 639,248 639.8,246.1 640.6,244.3 641.3,242.4 642.1,240.6 642.9,238.7 643.7,236.9 644.5,235.1 645.3,233.2 646.1,231.4 646.9,229.6 647.8,227.8 648.6,226 649.4,224.1 650.3,222.3 651.1,220.5 652,218.7 652.9,216.9 653.7,215.2 654.6,213.4 655.5,211.6 656.4,209.8 657.3,208 658.2,206.3 659.1,204.5 660.1,202.8 661,201 661.9,199.3 662.9,197.5 663.9,195.8 664.8,194.1 665.8,192.3 666.8,190.6 667.8,188.9 668.8,187.2 669.8,185.5 670.8,183.8 671.9,182.1 672.9,180.4 673.9,178.7 675,177 676.1,175.4 677.1,173.7 678.2,172.1 679.3,170.4 680.4,168.8 681.6,167.1 682.7,165.5 683.8,163.9 685,162.2 686.2,160.6 687.3,159 688.5,157.4 689.7,155.8 690.9,154.2 692.1,152.7 693.4,151.1 694.6,149.5 695.9,148 697.1,146.4 698.4,144.9 699.7,143.3 701,141.8 702.3,140.3 703.6,138.8 705,137.3 706.3,135.8 707.7,134.3 709.1,132.8 710.5,131.3 711.9,129.9 713.3,128.4 714.8,126.9 716.2,125.5 L717.3,1108.5 L718.3,1108 719.7,1106.5 721.1,1105.1 722.5,1103.7 723.9,1102.3 725.4,1100.9 726.8,1099.5 728.3,1098.1 729.8,1096.8 731.3,1095.4 732.8,1094.1 734.3,1092.8 735.8,1091.5 737.3,1090.3 738.9,1089 740.4,1087.8 742,1086.5 743.6,1085.3 745.2,1084.1 746.7,1082.9 748.4,1081.8 750,1080.6 751.6,1079.5 753.2,1078.3 754.9,1077.2 756.5,1076.1 758.2,1075 759.8,1073.9 761.5,1072.9 763.2,1071.8 764.9,1070.7 766.6,1069.7 768.3,1068.7 770,1067.7 771.7,1066.7 773.5,1065.7 775.2,1064.7 776.9,1063.7 778.7,1062.7 780.5,1061.8 782.2,1060.8 784,1059.9 785.8,1059 787.6,1058.1 789.3,1057.1 791.1,1056.2 792.9,1055.4 794.7,1054.5 796.5,1053.6 798.4,1052.7 800.2,1051.9 802,1051 803.8,1050.2 805.7,1049.3 807.5,1048.5 809.3,1047.6 811.2,1046.8 813,1046 814.9,1045.2 816.8,1044.4 818.6,1043.6 820.5,1042.8 822.3,1042 824.2,1041.2 826.1,1040.4 827.9,1039.6 829.8,1038.9 831.7,1038.1 833.6,1037.3 835.5,1036.6 837.3,1035.8 839.2,1035 841.1,1034.3 843,1033.5 844.9,1032.8 846.8,1032 848.7,1031.2 850.6,1030.5 852.4,1029.7 854.3,1029 856.2,1028.2 858.1,1027.5 860,1026.7 861.9,1026 863.8,1025.2 865.7,1024.5 867.5,1023.7 869.4,1023 871.3,1022.2 873.2,1021.4 875.1,1020.7 876.9,1019.9 878.8,1019.2 880.7,1018.4 882.6,1017.6 884.4,1016.8 886.3,1016.1 888.2,1015.3 890,1014.5 891.9,1013.7 893.7,1012.9 895.6,1012.1 897.4,1011.3 899.3,1010.5 901.1,1009.7 903,1008.8 904.8,1008 906.6,1007.2 908.4,1006.3 910.2,1005.5 912.1,1004.6 913.9,1003.8 915.7,1002.9 917.5,1002 919.3,1001.1 921,1000.2 922.8,999.3 924.6,998.4 926.4,997.5 928.1,996.6 929.9,995.6 931.6,994.7 933.4,993.7 935.1,992.8 936.8,991.8 938.5,990.8 940.3,989.8 942,988.8 943.7,987.8 945.4,986.8 947.1,985.8 948.7,984.7 950.4,983.7 952.1,982.6 953.8,981.6 955.4,980.5 957.1,979.4 958.7,978.3 960.4,977.2 962,976.1 963.7,975 965.3,973.9 966.9,972.8 968.5,971.7 970.1,970.5 971.8,969.4 973.4,968.3 975,967.1 976.6,965.9 978.2,964.8 979.8,963.6 981.3,962.4 982.9,961.2 984.5,960 986.1,958.9 987.6,957.6 989.2,956.4 990.8,955.2 992.3,954 993.9,952.8 995.4,951.5 997,950.3 998.5,949.1 1000.1,947.8 1001.6,946.6 1003.1,945.3 1004.7,944.1 1006.2,942.8 1007.7,941.5 1009.2,940.3 1010.8,939 1012.3,937.7 1013.8,936.4 1015.3,935.1 1016.8,933.8 1018.3,932.6 1019.8,931.3 1021.3,930 1022.8,928.6 1024.3,927.3 1025.8,926 1027.3,924.7 1028.8,923.4 1030.3,922.1 1031.8,920.8 1033.3,919.4 1034.8,918.1 1036.3,916.8 1037.8,915.5 1039.3,914.1 1040.8,912.8 1042.2,911.4 1043.7,910.1 1045.2,908.8 1046.7,907.4 1048.2,906.1 1049.6,904.7 1051.1,903.4 1052.6,902.1 1054.1,900.7 1055.6,899.4 1057,898 1058.5,896.7 1060,895.3 1061.5,894 1063,892.6 1064.4,891.3 1065.9,889.9 1067.4,888.6 1068.9,887.2 1070.4,885.9 1071.8,884.5 1073.3,883.2 1074.8,881.8 1076.3,880.5 1077.8,879.1 1079.3,877.8 1080.8,876.4 1082.2,875.1 1083.7,873.8 1085.2,872.4 1086.7,871.1 1088.2,869.7 1089.7,868.4 1091.2,867.1 1092.7,865.7 1094.2,864.4 1095.7,863.1 1097.2,861.8 1098.7,860.4 1100.2,859.1 1101.8,857.8 1103.3,856.5 1104.8,855.2 1106.3,853.9 1107.8,852.6 1109.4,851.3 1110.9,850 1112.4,848.7 1113.9,847.4 1115.5,846.1 1117,844.8 1118.6,843.5 1120.1,842.2 1121.7,841 1123.2,839.7 1124.8,838.4 1126.3,837.2 1127.9,835.9 1129.5,834.7 1131,833.4 1132.6,832.2 1134.2,830.9 1135.8,829.7 1137.4,828.5 1139,827.2 1140.6,826 1142.2,824.8 1143.8,823.6 1145.4,822.4 1147,821.2 1148.6,820 1150.2,818.8 1151.9,817.7 1153.5,816.5 1155.1,815.3 1156.8,814.2 1158.4,813 1160.1,811.9 1161.7,810.7 1163.4,809.6 1165.1,808.5 1166.7,807.3 1168.4,806.2 1170.1,805.1 1171.8,804 1173.5,802.9 1175.1,801.8 1176.8,800.7 1178.5,799.7 1180.2,798.6 1181.9,797.5 1183.7,796.5 1185.4,795.4 1187.1,794.4 1188.8,793.4 1190.5,792.3 1192.3,791.3 1194,790.3 1195.7,789.3 1197.5,788.3 1199.2,787.3 1201,786.3 1202.7,785.3 1204.5,784.3 1206.2,783.4 1208,782.4 1209.8,781.5 1211.5,780.5 1213.3,779.6 1215.1,778.7 1216.9,777.7 1218.7,776.8 1220.4,775.9 1222.2,775 1224,774.1 1225.8,773.3 1227.6,772.4 1229.4,771.5 1231.2,770.7 1233,769.8 1234.9,769 1236.7,768.1 1238.5,767.3 1240.3,766.5 1242.1,765.7 1244,764.9 1245.8,764.1 1247.6,763.3 1249.5,762.5 1251.3,761.8 1253.2,761 1255,760.3 1256.9,759.5 1258.7,758.8 1260.6,758.1 1262.4,757.4 1264.3,756.7 1266.1,756 1268,755.3 1269.9,754.6 1271.7,753.9 1273.6,753.3 1275.5,752.6 1277.4,752 1279.2,751.3 1281.1,750.7 1283,750.1 1284.9,749.5 1286.8,748.9 1288.7,748.3 1290.6,747.7 1292.5,747.1 1294.4,746.5 1296.3,745.9 1298.2,745.4 1300.1,744.8 1302,744.3 1303.9,743.8 1305.8,743.2 1307.7,742.7 1309.6,742.2 1311.6,741.7 1313.5,741.2 1315.4,740.7 1317.3,740.2 1319.2,739.7 1321.2,739.2 1323.1,738.7 1325,738.3 1327,737.8 1328.9,737.3 1330.8,736.9 1332.8,736.4 1334.7,736 1336.6,735.6 1338.6,735.1 1340.5,734.7 1342.5,734.3 1344.4,733.9 1346.3,733.5 1348.3,733 1350.2,732.6 1352.2,732.2 1354.1,731.8 1356.1,731.5 1358.1,731.1 1360,730.7 1362,730.3 1363.9,729.9 1365.9,729.6 1367.8,729.2 1369.8,728.8 1371.8,728.5 1373.7,728.1 1375.7,727.8 1377.7,727.4 1379.6,727 1381.6,726.7 1383.6,726.4 1385.5,726 1387.5,725.7 1389.5,725.3 1391.4,725 1393.4,724.7 1395.4,724.3 1397.4,724 1399.3,723.7 1401.3,723.3 1403.3,723 1405.2,722.7 1407.2,722.4 1409.2,722.1 1411.2,721.7 1413.2,721.4 1415.1,721.1 1417.1,720.8 1419.1,720.5 1421.1,720.2 1423,719.9 1425,719.6 1427,719.3 1429,718.9 1431,718.6 1432.9,718.3 1434.9,718 1436.9,717.7 1438.9,717.5 1440.9,717.2 1442.9,716.9 1444.8,716.6 1446.8,716.3 1448.8,716 1450.8,715.7 1452.8,715.4 1454.8,715.1 1456.8,714.9 1458.8,714.6 1460.7,714.3 1462.7,714 1464.7,713.7 1466.7,713.5 1468.7,713.2 1470.7,712.9 1472.7,712.7 1474.7,712.4 1476.7,712.1 1478.6,711.8 1480.6,711.6 1482.6,711.3 1484.6,711.1 1486.6,710.8 1488.6,710.5 1490.6,710.3 1492.6,710 1494.6,709.8 1496.6,709.5 1498.6,709.3 1500.6,709 1502.6,708.8 1504.6,708.5 1506.6,708.3 1508.5,708 1510.5,707.8 1512.5,707.5 1514.5,707.3 1516.5,707.1 1518.5,706.8 1520.5,706.6 1522.5,706.4 1524.5,706.1 1526.5,705.9 1528.5,705.7 1530.5,705.4 1532.5,705.2 1534.5,705 1536.5,704.8 1538.5,704.5 1540.5,704.3 1542.5,704.1 1544.5,703.9 1546.5,703.6 1548.5,703.4 1550.5,703.2 1552.5,703 1554.5,702.8 1556.5,702.6 1558.5,702.4 1560.5,702.2 1562.5,701.9 1564.5,701.7 1566.5,701.5 1568.5,701.3 1570.5,701.1 1572.5,700.9 1574.5,700.7 1576.5,700.5 1578.5,700.3 1580.5,700.1 1582.5,699.9 1584.5,699.7 1586.5,699.5 1588.5,699.4 1590.5,699.2 1592.5,699 1594.5,698.8 1596.5,698.6 1598.5,698.4 1600.5,698.2 1602.5,698.1 1604.5,697.9 1606.5,697.7 1608.5,697.5 1610.5,697.3 1612.5,697.2 1614.5,697 1616.5,696.8 1618.5,696.6 1620.5,696.5 1622.5,696.3 1624.5,696.1 1626.5,695.9 1628.5,695.8 1630.5,695.6 1632.5,695.4 1634.5,695.3 1636.5,695.1 1638.5,695 1640.5,694.8 1642.5,694.6 1644.5,694.5 1646.5,694.3 1648.5,694.2 1650.5,694 1652.5,693.9 1654.5,693.7 1656.5,693.6 1658.4,693.4 1660.4,693.3 1662.4,693.1 1664.4,693 1666.4,692.8 1668.4,692.7 1670.4,692.5 1672.4,692.4 1674.4,692.2 1676.4,692.1 1678.4,692 1680.4,691.8 1682.4,691.7 1684.4,691.5 1686.4,691.4 1688.4,691.3 1690.4,691.1 1692.3,691 1694.3,690.9 1696.3,690.7 1698.3,690.6 1700.3,690.5 1702.3,690.4 1704.3,690.2 1706.3,690.1 1708.3,690 1710.3,689.9 1712.3,689.7 1714.2,689.6 1716.2,689.5 1718.2,689.4 1720.2,689.3 1722.2,689.1 1724.2,689 1726.2,688.9 1728.1,688.8 1730.1,688.7 1732.1,688.6 1734.1,688.5 1736.1,688.3 1738.1,688.2 1740.1,688.1 1742,688 1744,687.9 1746,687.8" stroke="#00ff00" stroke-width="5.4" stroke-linecap="round"/>
<path d="M255,766.5 256.5,764.9 258,763.4 259.5,761.8 261.1,760.4 262.7,759 264.4,757.6 266.1,756.3 267.8,755.1 269.5,753.9 271.2,752.7 273,751.6 274.7,750.6 276.5,749.6 278.3,748.7 280.1,747.9 281.9,747.1 283.8,746.4 285.6,745.8 287.4,745.2 289.3,744.7 291.1,744.3 292.9,743.9 294.8,743.6 296.6,743.4 298.4,743.3 300.2,743.3 302,743.3 303.8,743.5 305.5,743.7 307.3,744 309,744.3 310.7,744.8 312.4,745.4 314,746 315.6,746.8 317.3,747.7 318.8,748.6 320.4,749.7 321.9,750.9 323.4,752.2 324.9,753.6 326.3,755.2 327.7,756.8 329.1,758.6 330.4,760.6 331.7,762.6 333,764.8 334.2,767 335.4,769.3 336.6,771.5 337.7,773.8 338.8,776 339.9,778.2 340.9,780.1 341.9,781.9 342.8,783.5 343.7,784.7 344.6,785.6 345.4,786.2 346.2,786.3 347,785.9 347.8,785.1 348.5,783.9 349.2,782.5 349.9,780.8 350.5,778.9 351.1,776.9 351.7,774.7 352.3,772.6 352.8,770.4 353.4,768.3 353.9,766.2 354.4,764.1 354.8,762 355.3,759.9 355.7,757.9 356.1,755.8 356.5,753.7 356.9,751.7 357.2,749.7 357.6,747.6 357.9,745.6 358.2,743.6 358.6,741.6 358.9,739.6 359.2,737.6 359.4,735.6 359.7,733.6 360,731.6 360.3,729.6 360.5,727.6 360.8,725.6 361,723.7 361.3,721.7 361.5,719.7 361.8,717.7 362,715.7 362.2,713.8 362.5,711.8 362.7,709.8 363,707.8 363.2,705.8 363.4,703.8 363.7,701.9 363.9,699.9 364.1,697.9 364.4,695.9 364.6,693.9 364.8,691.9 365.1,689.9 365.3,688 365.5,686 365.8,684 366,682 366.2,680 366.4,678 366.6,676 366.9,674.1 367.1,672.1 367.3,670.1 367.5,668.1 367.7,666.1 367.9,664.1 368.2,662.1 368.4,660.1 368.6,658.1 368.8,656.2 369,654.2 369.2,652.2 369.4,650.2 369.6,648.2 369.8,646.2 370,644.2 370.2,642.2 370.4,640.2 370.6,638.2 370.8,636.3 371,634.3 371.2,632.3 371.4,630.3 371.6,628.3 371.8,626.3 372,624.3 372.2,622.3 372.4,620.3 372.6,618.3 372.8,616.3 373,614.3 373.2,612.3 373.3,610.4 373.5,608.4 373.7,606.4 373.9,604.4 374.1,602.4 374.2,600.4 374.4,598.4 374.6,596.4 374.8,594.4 375,592.4 375.1,590.4 375.3,588.4 375.5,586.4 375.7,584.4 375.8,582.4 376,580.4 376.2,578.4 376.3,576.4 376.5,574.4 376.7,572.4 376.8,570.5 377,568.5 377.2,566.5 377.3,564.5 377.5,562.5 377.6,560.5 377.8,558.5 378,556.5 378.1,554.5 378.3,552.5 378.4,550.5 378.6,548.5 378.7,546.5 378.9,544.5 379.1,542.5 379.2,540.5 379.4,538.5 379.5,536.5 379.6,534.5 379.8,532.5 379.9,530.5 380.1,528.5 380.2,526.5 380.4,524.5 380.5,522.5 380.7,520.5 380.8,518.5 380.9,516.5 381.1,514.5 381.2,512.5 381.4,510.5 381.5,508.5 381.6,506.5 381.8,504.5 381.9,502.5 382,500.5 382.2,498.5 382.3,496.5 382.4,494.5 382.5,492.5 382.7,490.5 382.8,488.5 382.9,486.5 383.1,484.5 383.2,482.5 383.3,480.5 383.4,478.5 383.5,476.5 383.7,474.5 383.8,472.5 383.9,470.6 384,468.6 384.1,466.6 384.3,464.6 384.4,462.6 384.5,460.6 384.6,458.6 384.7,456.6 384.8,454.6 384.9,452.6 385.1,450.6 385.2,448.6 385.3,446.6 385.4,444.6 385.5,442.6 385.6,440.6 385.7,438.6 385.8,436.6 385.9,434.6 386,432.6 386.1,430.6 386.2,428.6 386.3,426.6 386.4,424.6 386.5,422.6 386.6,420.6 386.7,418.6 386.8,416.6 386.9,414.6 387,412.6 387.1,410.6 387.2,408.6 387.3,406.6 387.4,404.6 387.5,402.6 387.6,400.6 387.7,398.6 387.8,396.6 387.9,394.6 388,392.6 388.1,390.6 388.2,388.6 388.3,386.6 388.4,384.6 388.5,382.6 388.7,380.6 388.8,378.7 388.9,376.7 389,374.7 389.1,372.7 389.2,370.7 389.3,368.7 389.4,366.7 389.5,364.7 389.6,362.7 389.7,360.7 389.8,358.7 389.9,356.7 390,354.7 390.1,352.7 390.3,350.7 390.4,348.7 390.5,346.7 390.6,344.7 390.7,342.7 390.8,340.8 391,338.8 391.1,336.8 391.2,334.8 391.3,332.8 391.4,330.8 391.6,328.8 391.7,326.8 391.8,324.8 392,322.8 392.1,320.8 392.2,318.8 392.3,316.8 392.5,314.9 392.6,312.9 392.8,310.9 392.9,308.9 393,306.9 393.2,304.9 393.3,302.9 393.5,300.9 393.6,298.9 393.8,296.9 393.9,295 394.1,293 394.2,291 394.4,289 394.6,287 394.7,285 394.9,283 395.1,281 395.2,279.1 395.4,277.1 395.6,275.1 395.8,273.1 395.9,271.1 396.1,269.1 396.3,267.1 396.5,265.2 396.7,263.2 396.9,261.2 397.1,259.2 397.3,257.2 397.5,255.2 397.7,253.2 397.9,251.3 398.1,249.3 398.3,247.3 398.5,245.3 398.7,243.3 398.9,241.4 399.1,239.4 399.4,237.4 399.6,235.4 399.8,233.4 400.1,231.4 400.3,229.5 400.5,227.5 400.8,225.5 401,223.5 401.3,221.5 401.5,219.6 401.8,217.6 402.1,215.6 402.3,213.6 402.6,211.7 402.9,209.7 403.1,207.7 403.4,205.7 403.7,203.8 404,201.8 404.3,199.8 404.6,197.8 404.8,195.8 405.1,193.9 405.5,191.9 405.8,189.9 406.1,188 406.4,186 406.7,184 407,182 407.4,180.1 407.7,178.1 408,176.1 408.4,174.1 408.7,172.2 409.1,170.2 409.4,168.2 409.8,166.3 410.1,164.3 410.5,162.3 410.9,160.4 411.2,158.4 411.6,156.4 412,154.5 412.4,152.5 412.8,150.5 413.2,148.6 413.6,146.6 414,144.6 414.4,142.7 414.8,140.7 415.2,138.7 415.6,136.8 416.1,134.8 416.5,132.8 416.9,130.9 417.4,128.9 417.8,127 418.3,125 L418.6,1089 L418.8,1089 420.2,1087.4 421.6,1085.9 422.9,1084.3 424.2,1082.7 425.4,1081 426.5,1079.4 427.6,1077.7 428.7,1076.1 429.7,1074.4 430.7,1072.7 431.6,1070.9 432.5,1069.2 433.4,1067.5 434.3,1065.7 435.2,1063.9 436,1062.1 436.8,1060.3 437.6,1058.5 438.3,1056.7 439,1054.8 439.7,1053 440.3,1051.1 440.9,1049.2 441.4,1047.3 441.8,1045.4 442.2,1043.5 442.6,1041.6 442.9,1039.7 443.2,1037.8 443.5,1035.8 443.7,1033.9 443.9,1031.9 444.1,1030 444.3,1028 444.4,1026 444.6,1024 444.7,1022.1 444.8,1020.1 444.9,1018.1 445,1016.1 445.1,1014 445.2,1012 445.3,1010 445.4,1008 445.5,1006 445.6,1004 445.7,1001.9 445.8,999.9 446,997.9 446.1,995.9 446.2,993.8 446.3,991.8 446.4,989.8 446.5,987.7 446.6,985.7 446.7,983.7 446.8,981.7 446.9,979.6 447,977.6 447.1,975.6 447.2,973.6 447.2,971.5 447.3,969.5 447.3,967.5 447.4,965.5 447.4,963.5 447.5,961.5 447.5,959.5 447.5,957.5 447.6,955.4 447.6,953.4 447.6,951.4 447.6,949.4 447.6,947.4 447.6,945.4 447.6,943.4 447.6,941.4 447.6,939.4 447.6,937.4 447.6,935.4 447.6,933.4 447.6,931.4 447.6,929.4 447.6,927.4 447.6,925.4 447.6,923.4 447.6,921.4 447.6,919.5 447.6,917.5 447.6,915.5 447.6,913.5 447.6,911.5 447.6,909.5 447.6,907.5 447.6,905.5 447.6,903.5 447.6,901.5 447.6,899.6 447.6,897.6 447.6,895.6 447.7,893.6 447.7,891.6 447.7,889.6 447.7,887.6 447.8,885.6 447.8,883.7 447.8,881.7 447.9,879.7 447.9,877.7 448,875.7 448,873.7 448.1,871.7 448.2,869.7 448.2,867.8 448.3,865.8 448.4,863.8 448.5,861.8 448.5,859.8 448.6,857.8 448.7,855.8 448.8,853.8 448.9,851.8 449,849.8 449.1,847.9 449.2,845.9 449.3,843.9 449.4,841.9 449.5,839.9 449.6,837.9 449.7,835.9 449.7,833.9 449.8,831.9 449.9,829.9 450,827.9 450.1,825.9 450.2,823.9 450.3,821.9 450.4,819.9 450.5,817.9 450.6,815.9 450.6,813.9 450.7,811.9 450.8,809.9 450.9,807.9 450.9,805.9 451,803.8 451.1,801.8 451.1,799.8 451.2,797.8 451.2,795.8 451.3,793.8 451.3,791.8 451.4,789.7 451.4,787.7 451.5,785.7 451.5,783.7 451.6,781.7 451.6,779.7 451.7,777.6 451.7,775.6 451.8,773.6 451.9,771.6 451.9,769.6 452,767.6 452.1,765.6 452.2,763.5 452.2,761.5 452.3,759.5 452.4,757.5 452.5,755.5 452.6,753.5 452.8,751.5 452.9,749.5 453,747.5 453.2,745.5 453.3,743.5 453.5,741.5 453.6,739.5 453.8,737.5 454,735.5 454.2,733.5 454.4,731.6 454.7,729.6 454.9,727.6 455.2,725.6 455.4,723.7 455.7,721.7 456,719.7 456.3,717.8 456.7,715.8 457.1,713.9 457.5,711.9 457.9,710 458.4,708.1 458.9,706.2 459.5,704.3 460.1,702.5 460.8,700.6 461.5,698.8 462.3,697 463.2,695.2 464.1,693.4 465.2,691.6 466.2,689.9 467.4,688.2 468.7,686.6 469.9,684.9 471.3,683.3 472.6,681.7 474,680.2 475.3,678.7 476.7,677.2 478,675.7 479.4,674.2 480.7,672.7 482,671.3 483.3,669.8 484.6,668.3 485.9,666.8 487.2,665.3 488.4,663.8 489.6,662.2 490.8,660.6 491.9,659.1 493,657.5 494.1,655.8 495.1,654.2 496.2,652.5 497.2,650.9 498.1,649.2 499.1,647.5 500.1,645.8 501.1,644.1 502.1,642.4 503.1,640.7 504.1,638.9 505.2,637.2 506.2,635.4 507.3,633.7 508.4,631.9 509.5,630.2 510.6,628.4 511.6,626.6 512.7,624.9 513.8,623.1 514.8,621.3 515.8,619.5 516.9,617.7 517.9,615.9 518.8,614.1 519.8,612.3 520.7,610.5 521.6,608.7 522.4,606.9 523.3,605.1 524.1,603.3 524.9,601.5 525.7,599.6 526.5,597.8 527.3,596 528,594.2 528.8,592.4 529.5,590.5 530.2,588.7 530.9,586.9 531.7,585 532.4,583.2 533.1,581.4 533.8,579.5 534.5,577.7 535.2,575.9 535.9,574 536.6,572.2 537.4,570.3 538.1,568.5 538.8,566.6 539.5,564.8 540.3,562.9 541,561.1 541.7,559.2 542.5,557.4 543.2,555.5 543.9,553.7 544.6,551.8 545.4,549.9 546.1,548.1 546.8,546.2 547.6,544.3 548.3,542.5 549,540.6 549.7,538.7 550.4,536.8 551.1,535 551.9,533.1 552.5,531.2 553.2,529.3 553.9,527.4 554.6,525.6 555.3,523.7 556,521.8 556.6,519.9 557.3,518 557.9,516.1 558.6,514.2 559.2,512.4 559.8,510.5 560.5,508.6 561.1,506.7 561.7,504.8 562.3,502.9 563,501 563.6,499.1 564.2,497.2 564.8,495.3 565.4,493.4 566,491.5 566.6,489.6 567.2,487.7 567.8,485.8 568.4,483.9 569,481.9 569.6,480 570.2,478.1 570.8,476.2 571.4,474.3 571.9,472.4 572.5,470.5 573.1,468.6 573.7,466.6 574.3,464.7 574.8,462.8 575.4,460.9 576,459 576.6,457.1 577.1,455.1 577.7,453.2 578.3,451.3 578.8,449.4 579.4,447.5 579.9,445.5 580.5,443.6 581.1,441.7 581.6,439.8 582.2,437.8 582.7,435.9 583.3,434 583.8,432.1 584.4,430.1 584.9,428.2 585.4,426.3 586,424.3 586.5,422.4 587.1,420.5 587.6,418.6 588.1,416.6 588.7,414.7 589.2,412.8 589.7,410.8 590.3,408.9 590.8,407 591.3,405 591.8,403.1 592.4,401.2 592.9,399.2 593.4,397.3 593.9,395.4 594.4,393.4 594.9,391.5 595.5,389.6 596,387.7 596.5,385.7 597,383.8 597.5,381.9 598,379.9 598.5,378 599,376.1 599.5,374.1 600,372.2 600.5,370.3 601,368.3 601.6,366.4 602.1,364.5 602.6,362.5 603.1,360.6 603.6,358.7 604.1,356.7 604.6,354.8 605.1,352.9 605.6,350.9 606.1,349 606.7,347.1 607.2,345.1 607.7,343.2 608.2,341.3 608.8,339.3 609.3,337.4 609.8,335.5 610.4,333.6 610.9,331.6 611.4,329.7 612,327.8 612.5,325.9 613.1,323.9 613.6,322 614.2,320.1 614.8,318.2 615.3,316.2 615.9,314.3 616.5,312.4 617,310.5 617.6,308.5 618.2,306.6 618.8,304.7 619.4,302.8 620,300.9 620.6,299 621.2,297 621.9,295.1 622.5,293.2 623.1,291.3 623.7,289.4 624.4,287.5 625,285.6 625.7,283.7 626.3,281.8 627,279.9 627.6,278 628.3,276.1 629,274.2 629.7,272.3 630.4,270.4 631,268.5 631.7,266.6 632.4,264.8 633.2,262.9 633.9,261 634.6,259.1 635.3,257.3 636,255.4 636.8,253.5 637.5,251.7 638.3,249.8 639,248 639.8,246.1 640.6,244.2 641.3,242.4 642.1,240.6 642.9,238.7 643.7,236.9 644.5,235.1 645.3,233.2 646.1,231.4 646.9,229.6 647.8,227.8 648.6,225.9 649.4,224.1 650.3,222.3 651.1,220.5 652,218.7 652.9,216.9 653.7,215.2 654.6,213.4 655.5,211.6 656.4,209.8 657.3,208 658.2,206.3 659.1,204.5 660.1,202.8 661,201 662,199.3 662.9,197.5 663.9,195.8 664.8,194.1 665.8,192.3 666.8,190.6 667.8,188.9 668.8,187.2 669.8,185.5 670.8,183.8 671.9,182.1 672.9,180.4 673.9,178.7 675,177 676.1,175.4 677.2,173.7 678.2,172.1 679.3,170.4 680.4,168.8 681.6,167.1 682.7,165.5 683.8,163.9 685,162.2 686.2,160.6 687.3,159 688.5,157.4 689.7,155.8 690.9,154.2 692.1,152.7 693.4,151.1 694.6,149.5 695.9,148 697.1,146.4 698.4,144.9 699.7,143.3 701,141.8 702.3,140.3 703.6,138.8 705,137.3 706.3,135.8 707.7,134.3 709.1,132.8 710.5,131.3 711.9,129.9 713.3,128.4 714.8,126.9 716.2,125.5 L718,1107.5 L718.3,1108 719.7,1106.5 721.1,1105.1 722.5,1103.7 723.9,1102.3 725.4,1100.9 726.8,1099.5 728.3,1098.1 729.8,1096.8 731.3,1095.4 732.8,1094.1 734.3,1092.8 735.8,1091.5 737.3,1090.3 738.9,1089 740.4,1087.8 742,1086.5 743.6,1085.3 745.2,1084.1 746.7,1082.9 748.4,1081.8 750,1080.6 751.6,1079.5 753.2,1078.3 754.9,1077.2 756.5,1076.1 758.2,1075 759.8,1073.9 761.5,1072.9 763.2,1071.8 764.9,1070.7 766.6,1069.7 768.3,1068.7 770,1067.7 771.7,1066.7 773.5,1065.7 775.2,1064.7 776.9,1063.7 778.7,1062.7 780.5,1061.8 782.2,1060.8 784,1059.9 785.8,1059 787.6,1058.1 789.3,1057.1 791.1,1056.2 792.9,1055.4 794.7,1054.5 796.5,1053.6 798.4,1052.7 800.2,1051.9 802,1051 803.8,1050.2 805.7,1049.3 807.5,1048.5 809.3,1047.6 811.2,1046.8 813,1046 814.9,1045.2 816.8,1044.4 818.6,1043.6 820.5,1042.8 822.3,1042 824.2,1041.2 826.1,1040.4 827.9,1039.6 829.8,1038.9 831.7,1038.1 833.6,1037.3 835.5,1036.6 837.3,1035.8 839.2,1035 841.1,1034.3 843,1033.5 844.9,1032.8 846.8,1032 848.7,1031.2 850.6,1030.5 852.4,1029.7 854.3,1029 856.2,1028.2 858.1,1027.5 860,1026.7 861.9,1026 863.8,1025.2 865.7,1024.5 867.5,1023.7 869.4,1023 871.3,1022.2 873.2,1021.4 875.1,1020.7 876.9,1019.9 878.8,1019.2 880.7,1018.4 882.6,1017.6 884.4,1016.8 886.3,1016.1 888.2,1015.3 890,1014.5 891.9,1013.7 893.7,1012.9 895.6,1012.1 897.4,1011.3 899.3,1010.5 901.1,1009.7 903,1008.8 904.8,1008 906.6,1007.2 908.4,1006.3 910.2,1005.5 912.1,1004.6 913.9,1003.8 915.7,1002.9 917.5,1002 919.3,1001.1 921,1000.2 922.8,999.3 924.6,998.4 926.4,997.5 928.1,996.6 929.9,995.6 931.6,994.7 933.4,993.7 935.1,992.8 936.8,991.8 938.5,990.8 940.3,989.8 942,988.8 943.7,987.8 945.4,986.8 947.1,985.8 948.7,984.7 950.4,983.7 952.1,982.6 953.8,981.6 955.4,980.5 957.1,979.4 958.7,978.3 960.4,977.2 962,976.1 963.7,975 965.3,973.9 966.9,972.8 968.5,971.7 970.1,970.5 971.8,969.4 973.4,968.3 975,967.1 976.6,965.9 978.2,964.8 979.8,963.6 981.3,962.4 982.9,961.2 984.5,960 986.1,958.9 987.6,957.6 989.2,956.4 990.8,955.2 992.3,954 993.9,952.8 995.4,951.5 997,950.3 998.5,949.1 1000.1,947.8 1001.6,946.6 1003.1,945.3 1004.7,944.1 1006.2,942.8 1007.7,941.5 1009.2,940.3 1010.8,939 1012.3,937.7 1013.8,936.4 1015.3,935.1 1016.8,933.8 1018.3,932.6 1019.8,931.3 1021.3,930 1022.8,928.6 1024.3,927.3 1025.8,926 1027.3,924.7 1028.8,923.4 1030.3,922.1 1031.8,920.8 1033.3,919.4 1034.8,918.1 1036.3,916.8 1037.8,915.5 1039.3,914.1 1040.8,912.8 1042.2,911.4 1043.7,910.1 1045.2,908.8 1046.7,907.4 1048.2,906.1 1049.6,904.7 1051.1,903.4 1052.6,902.1 1054.1,900.7 1055.6,899.4 1057,898 1058.5,896.7 1060,895.3 1061.5,894 1063,892.6 1064.4,891.3 1065.9,889.9 1067.4,888.6 1068.9,887.2 1070.4,885.9 1071.8,884.5 1073.3,883.2 1074.8,881.8 1076.3,880.5 1077.8,879.1 1079.3,877.8 1080.8,876.4 1082.2,875.1 1083.7,873.8 1085.2,872.4 1086.7,871.1 1088.2,869.7 1089.7,868.4 1091.2,867.1 1092.7,865.7 1094.2,864.4 1095.7,863.1 1097.2,861.8 1098.7,860.4 1100.2,859.1 1101.8,857.8 1103.3,856.5 1104.8,855.2 1106.3,853.9 1107.8,852.6 1109.4,851.3 1110.9,850 1112.4,848.7 1113.9,847.4 1115.5,846.1 1117,844.8 1118.6,843.5 1120.1,842.2 1121.7,841 1123.2,839.7 1124.8,838.4 1126.3,837.2 1127.9,835.9 1129.5,834.7 1131,833.4 1132.6,832.2 1134.2,830.9 1135.8,829.7 1137.4,828.5 1139,827.2 1140.6,826 1142.2,824.8 1143.8,823.6 1145.4,822.4 1147,821.2 1148.6,820 1150.2,818.8 1151.9,817.7 1153.5,816.5 1155.1,815.3 1156.8,814.2 1158.4,813 1160.1,811.9 1161.7,810.7 1163.4,809.6 1165.1,808.5 1166.7,807.3 1168.4,806.2 1170.1,805.1 1171.8,804 1173.5,802.9 1175.1,801.8 1176.8,800.7 1178.5,799.7 1180.2,798.6 1181.9,797.5 1183.7,796.5 1185.4,795.4 1187.1,794.4 1188.8,793.4 1190.5,792.3 1192.3,791.3 1194,790.3 1195.7,789.3 1197.5,788.3 1199.2,787.3 1201,786.3 1202.7,785.3 1204.5,784.3 1206.2,783.4 1208,782.4 1209.8,781.5 1211.5,780.5 1213.3,779.6 1215.1,778.7 1216.9,777.7 1218.7,776.8 1220.4,775.9 1222.2,775 1224,774.1 1225.8,773.3 1227.6,772.4 1229.4,771.5 1231.2,770.7 1233,769.8 1234.9,769 1236.7,768.1 1238.5,767.3 1240.3,766.5 1242.1,765.7 1244,764.9 1245.8,764.1 1247.6,763.3 1249.5,762.5 1251.3,761.8 1253.2,761 1255,760.3 1256.9,759.5 1258.7,758.8 1260.6,758.1 1262.4,757.4 1264.3,756.7 1266.1,756 1268,755.3 1269.9,754.6 1271.7,753.9 1273.6,753.3 1275.5,752.6 1277.4,752 1279.2,751.3 1281.1,750.7 1283,750.1 1284.9,749.5 1286.8,748.9 1288.7,748.3 1290.6,747.7 1292.5,747.1 1294.4,746.5 1296.3,745.9 1298.2,745.4 1300.1,744.8 1302,744.3 1303.9,743.8 1305.8,743.2 1307.7,742.7 1309.6,742.2 1311.6,741.7 1313.5,741.2 1315.4,740.7 1317.3,740.2 1319.2,739.7 1321.2,739.2 1323.1,738.7 1325,738.3 1327,737.8 1328.9,737.3 1330.8,736.9 1332.8,736.4 1334.7,736 1336.6,735.6 1338.6,735.1 1340.5,734.7 1342.5,734.3 1344.4,733.9 1346.3,733.5 1348.3,733 1350.2,732.6 1352.2,732.2 1354.1,731.8 1356.1,731.5 1358.1,731.1 1360,730.7 1362,730.3 1363.9,729.9 1365.9,729.6 1367.8,729.2 1369.8,728.8 1371.8,728.5 1373.7,728.1 1375.7,727.8 1377.7,727.4 1379.6,727 1381.6,726.7 1383.6,726.4 1385.5,726 1387.5,725.7 1389.5,725.3 1391.4,725 1393.4,724.7 1395.4,724.3 1397.4,724 1399.3,723.7 1401.3,723.3 1403.3,723 1405.2,722.7 1407.2,722.4 1409.2,722.1 1411.2,721.7 1413.2,721.4 1415.1,721.1 1417.1,720.8 1419.1,720.5 1421.1,720.2 1423,719.9 1425,719.6 1427,719.3 1429,718.9 1431,718.6 1432.9,718.3 1434.9,718 1436.9,717.7 1438.9,717.5 1440.9,717.2 1442.9,716.9 1444.8,716.6 1446.8,716.3 1448.8,716 1450.8,715.7 1452.8,715.4 1454.8,715.1 1456.8,714.9 1458.8,714.6 1460.7,714.3 1462.7,714 1464.7,713.7 1466.7,713.5 1468.7,713.2 1470.7,712.9 1472.7,712.7 1474.7,712.4 1476.7,712.1 1478.6,711.8 1480.6,711.6 1482.6,711.3 1484.6,711.1 1486.6,710.8 1488.6,710.5 1490.6,710.3 1492.6,710 1494.6,709.8 1496.6,709.5 1498.6,709.3 1500.6,709 1502.6,708.8 1504.6,708.5 1506.6,708.3 1508.5,708 1510.5,707.8 1512.5,707.5 1514.5,707.3 1516.5,707.1 1518.5,706.8 1520.5,706.6 1522.5,706.4 1524.5,706.1 1526.5,705.9 1528.5,705.7 1530.5,705.4 1532.5,705.2 1534.5,705 1536.5,704.8 1538.5,704.5 1540.5,704.3 1542.5,704.1 1544.5,703.9 1546.5,703.6 1548.5,703.4 1550.5,703.2 1552.5,703 1554.5,702.8 1556.5,702.6 1558.5,702.4 1560.5,702.2 1562.5,701.9 1564.5,701.7 1566.5,701.5 1568.5,701.3 1570.5,701.1 1572.5,700.9 1574.5,700.7 1576.5,700.5 1578.5,700.3 1580.5,700.1 1582.5,699.9 1584.5,699.7 1586.5,699.5 1588.5,699.4 1590.5,699.2 1592.5,699 1594.5,698.8 1596.5,698.6 1598.5,698.4 1600.5,698.2 1602.5,698.1 1604.5,697.9 1606.5,697.7 1608.5,697.5 1610.5,697.3 1612.5,697.2 1614.5,697 1616.5,696.8 1618.5,696.6 1620.5,696.5 1622.5,696.3 1624.5,696.1 1626.5,695.9 1628.5,695.8 1630.5,695.6 1632.5,695.4 1634.5,695.3 1636.5,695.1 1638.5,695 1640.5,694.8 1642.5,694.6 1644.5,694.5 1646.5,694.3 1648.5,694.2 1650.5,694 1652.5,693.9 1654.5,693.7 1656.5,693.6 1658.4,693.4 1660.4,693.3 1662.4,693.1 1664.4,693 1666.4,692.8 1668.4,692.7 1670.4,692.5 1672.4,692.4 1674.4,692.2 1676.4,692.1 1678.4,692 1680.4,691.8 1682.4,691.7 1684.4,691.5 1686.4,691.4 1688.4,691.3 1690.4,691.1 1692.3,691 1694.3,690.9 1696.3,690.7 1698.3,690.6 1700.3,690.5 1702.3,690.4 1704.3,690.2 1706.3,690.1 1708.3,690 1710.3,689.9 1712.3,689.7 1714.2,689.6 1716.2,689.5 1718.2,689.4 1720.2,689.3 1722.2,689.1 1724.2,689 1726.2,688.9 1728.1,688.8 1730.1,688.7 1732.1,688.6 1734.1,688.5 1736.1,688.3 1738.1,688.2 1740.1,688.1 1742,688 1744,687.9 1746,687.8" stroke="#ff0000" stroke-width="5.5" stroke-dasharray="26 29.5"/>
</g>
<path d="M262.8,1136.5 v-18 M262.8,44.5 v19.5 M362.4,1136.5 v-35.5 M362.4,44.5 v35.5 M462,1136.5 v-18 M462,44.5 v19.5 M561.6,1136.5 v-18 M561.6,44.5 v19.5 M661.2,1136.5 v-35.5 M661.2,44.5 v35.5 M760.8,1136.5 v-18 M760.8,44.5 v19.5 M860.4,1136.5 v-18 M860.4,44.5 v19.5 M960,1136.5 v-35.5 M960,44.5 v35.5 M1059.7,1136.5 v-18 M1059.7,44.5 v19.5 M1159.3,1136.5 v-18 M1159.3,44.5 v19.5 M1258.9,1136.5 v-35.5 M1258.9,44.5 v35.5 M1358.5,1136.5 v-18 M1358.5,44.5 v19.5 M1458.1,1136.5 v-18 M1458.1,44.5 v19.5 M1557.7,1136.5 v-35.5 M1557.7,44.5 v35.5 M1657.3,1136.5 v-18 M1657.3,44.5 v19.5 M1756.9,1136.5 v-18 M1756.9,44.5 v19.5 M213,1000 h19.5 M1856.5,1000 h-30.5 M213,863.5 h37 M1856.5,863.5 h-36.5 M213,727 h19.5 M1856.5,727 h-30.5 M213,590.5 h37 M1856.5,590.5 h-36.5 M213,454 h19.5 M1856.5,454 h-30.5 M213,317.5 h37 M1856.5,317.5 h-36.5 M213,181 h19.5 M1856.5,181 h-30.5" stroke="#000" stroke-width="4.4" fill="none"/>
<rect x="213" y="44.5" width="1643.5" height="1092" fill="none" stroke="#000" stroke-width="4.4"/>
<g font-family="Liberation Sans, Arial, sans-serif" font-size="61.5" fill="#000">
<text x="184.6" y="1156.3" text-anchor="end">0</text>
<text x="184.6" y="883.3" text-anchor="end">20</text>
<text x="184.6" y="610.3" text-anchor="end">40</text>
<text x="184.6" y="337.3" text-anchor="end">60</text>
<text x="184.6" y="64.3" text-anchor="end">80</text>
<text x="1883.3" y="1156">-100</text>
<text x="1883.3" y="883">0</text>
<text x="1883.3" y="610">100</text>
<text x="1883.3" y="337">200</text>
<text x="1883.3" y="64">300</text>
<text x="362.9" y="1219" text-anchor="middle">300</text>
<text x="661.7" y="1219" text-anchor="middle">600</text>
<text x="960.5" y="1219" text-anchor="middle">900</text>
<text x="1259.4" y="1219" text-anchor="middle">1200</text>
<text x="1558.2" y="1219" text-anchor="middle">1500</text>
<text x="1857" y="1219" text-anchor="middle">1800</text>
</g>
<g fill="#000">
<text transform="translate(83.9,706.7) rotate(-90) scale(0.995,1)" font-family="DejaVu Serif, serif" font-size="86.9">ψ</text>
<text transform="translate(81.1,573.5) rotate(-90) scale(1.139,1)" font-family="Liberation Serif, Times New Roman, serif" font-size="92.2">(</text>
<text transform="translate(82.4,543.8) rotate(-90) scale(1.018,1)" font-family="Liberation Serif, Times New Roman, serif" font-size="95.0">°</text>
<text transform="translate(81.1,510.4) rotate(-90) scale(1.134,1)" font-family="Liberation Serif, Times New Roman, serif" font-size="92.2">)</text>
<text transform="translate(2099,683.4) rotate(-90) scale(0.953,1)" font-family="Liberation Serif, Times New Roman, serif" font-size="77.0">Δ</text>
<text transform="translate(2098.9,578.3) rotate(-90) scale(1.084,1)" font-family="Liberation Serif, Times New Roman, serif" font-size="77.0">(</text>
<text transform="translate(2096.3,553.1) rotate(-90) scale(1.000,1)" font-family="Liberation Serif, Times New Roman, serif" font-size="75.3">°</text>
<text transform="translate(2098.9,524.5) rotate(-90) scale(1.129,1)" font-family="Liberation Serif, Times New Roman, serif" font-size="77.0">)</text>
<text transform="translate(897.2,1318.5) scale(1.045,1)" font-family="Noto Serif CJK SC, Liberation Serif, serif" font-size="73.2">λ</text>
<text transform="translate(1007.2,1320) scale(0.993,1)" font-family="Liberation Serif, Times New Roman, serif" font-size="85.8">(nm)</text>
</g>
<rect x="1181" y="94.2" width="612.2" height="346.3" rx="30" fill="#808080"/>
<rect x="1157.4" y="72.8" width="610.4" height="346.7" rx="30" fill="#fff" stroke="#000" stroke-width="2.6"/>
<path d="M1179.5,137.3 H1345" stroke="#00ffff" stroke-width="8.4" stroke-linecap="round"/>
<path d="M1179.3,213 H1316" stroke="#0000ff" stroke-width="5.5" stroke-dasharray="23.5 32" stroke-linecap="round"/>
<path d="M1178.5,288.8 H1345" stroke="#00ff00" stroke-width="5.5" stroke-linecap="round"/>
<path d="M1179.3,364.8 H1316" stroke="#ff0000" stroke-width="5.5" stroke-dasharray="23.5 32" stroke-linecap="round"/>
<text transform="translate(1371.9,164.1) scale(0.812,1)" font-family="Liberation Sans, Arial, sans-serif" font-size="65.0">-</text>
<text transform="translate(1399.9,157.4) scale(0.960,1)" font-family="DejaVu Serif, serif" font-size="50.8">ψ</text>
<text x="1451.5" y="157.8" font-family="Liberation Sans, Arial, sans-serif" font-style="italic" font-size="46">(experimental)</text>
<text transform="translate(1371.9,239.5) scale(0.812,1)" font-family="Liberation Sans, Arial, sans-serif" font-size="65.0">-</text>
<text transform="translate(1399.9,232.8) scale(0.960,1)" font-family="DejaVu Serif, serif" font-size="50.8">ψ</text>
<text x="1451.5" y="233.2" font-family="Liberation Sans, Arial, sans-serif" font-style="italic" font-size="46">(modelled)</text>
<text transform="translate(1371.9,314.9) scale(0.812,1)" font-family="Liberation Sans, Arial, sans-serif" font-size="65.0">-</text>
<text transform="translate(1399.5,309.5) scale(0.968,1)" font-family="Liberation Serif, Times New Roman, serif" font-size="56.4">Δ</text>
<text x="1446.8" y="309.5" font-family="Liberation Sans, Arial, sans-serif" font-style="italic" font-size="46">(experimental)</text>
<text transform="translate(1371.9,390.1) scale(0.812,1)" font-family="Liberation Sans, Arial, sans-serif" font-size="65.0">-</text>
<text transform="translate(1399.5,384.7) scale(0.968,1)" font-family="Liberation Serif, Times New Roman, serif" font-size="56.4">Δ</text>
<text x="1446.8" y="384.7" font-family="Liberation Sans, Arial, sans-serif" font-style="italic" font-size="46">(modelled)</text>
</svg></body></html>
